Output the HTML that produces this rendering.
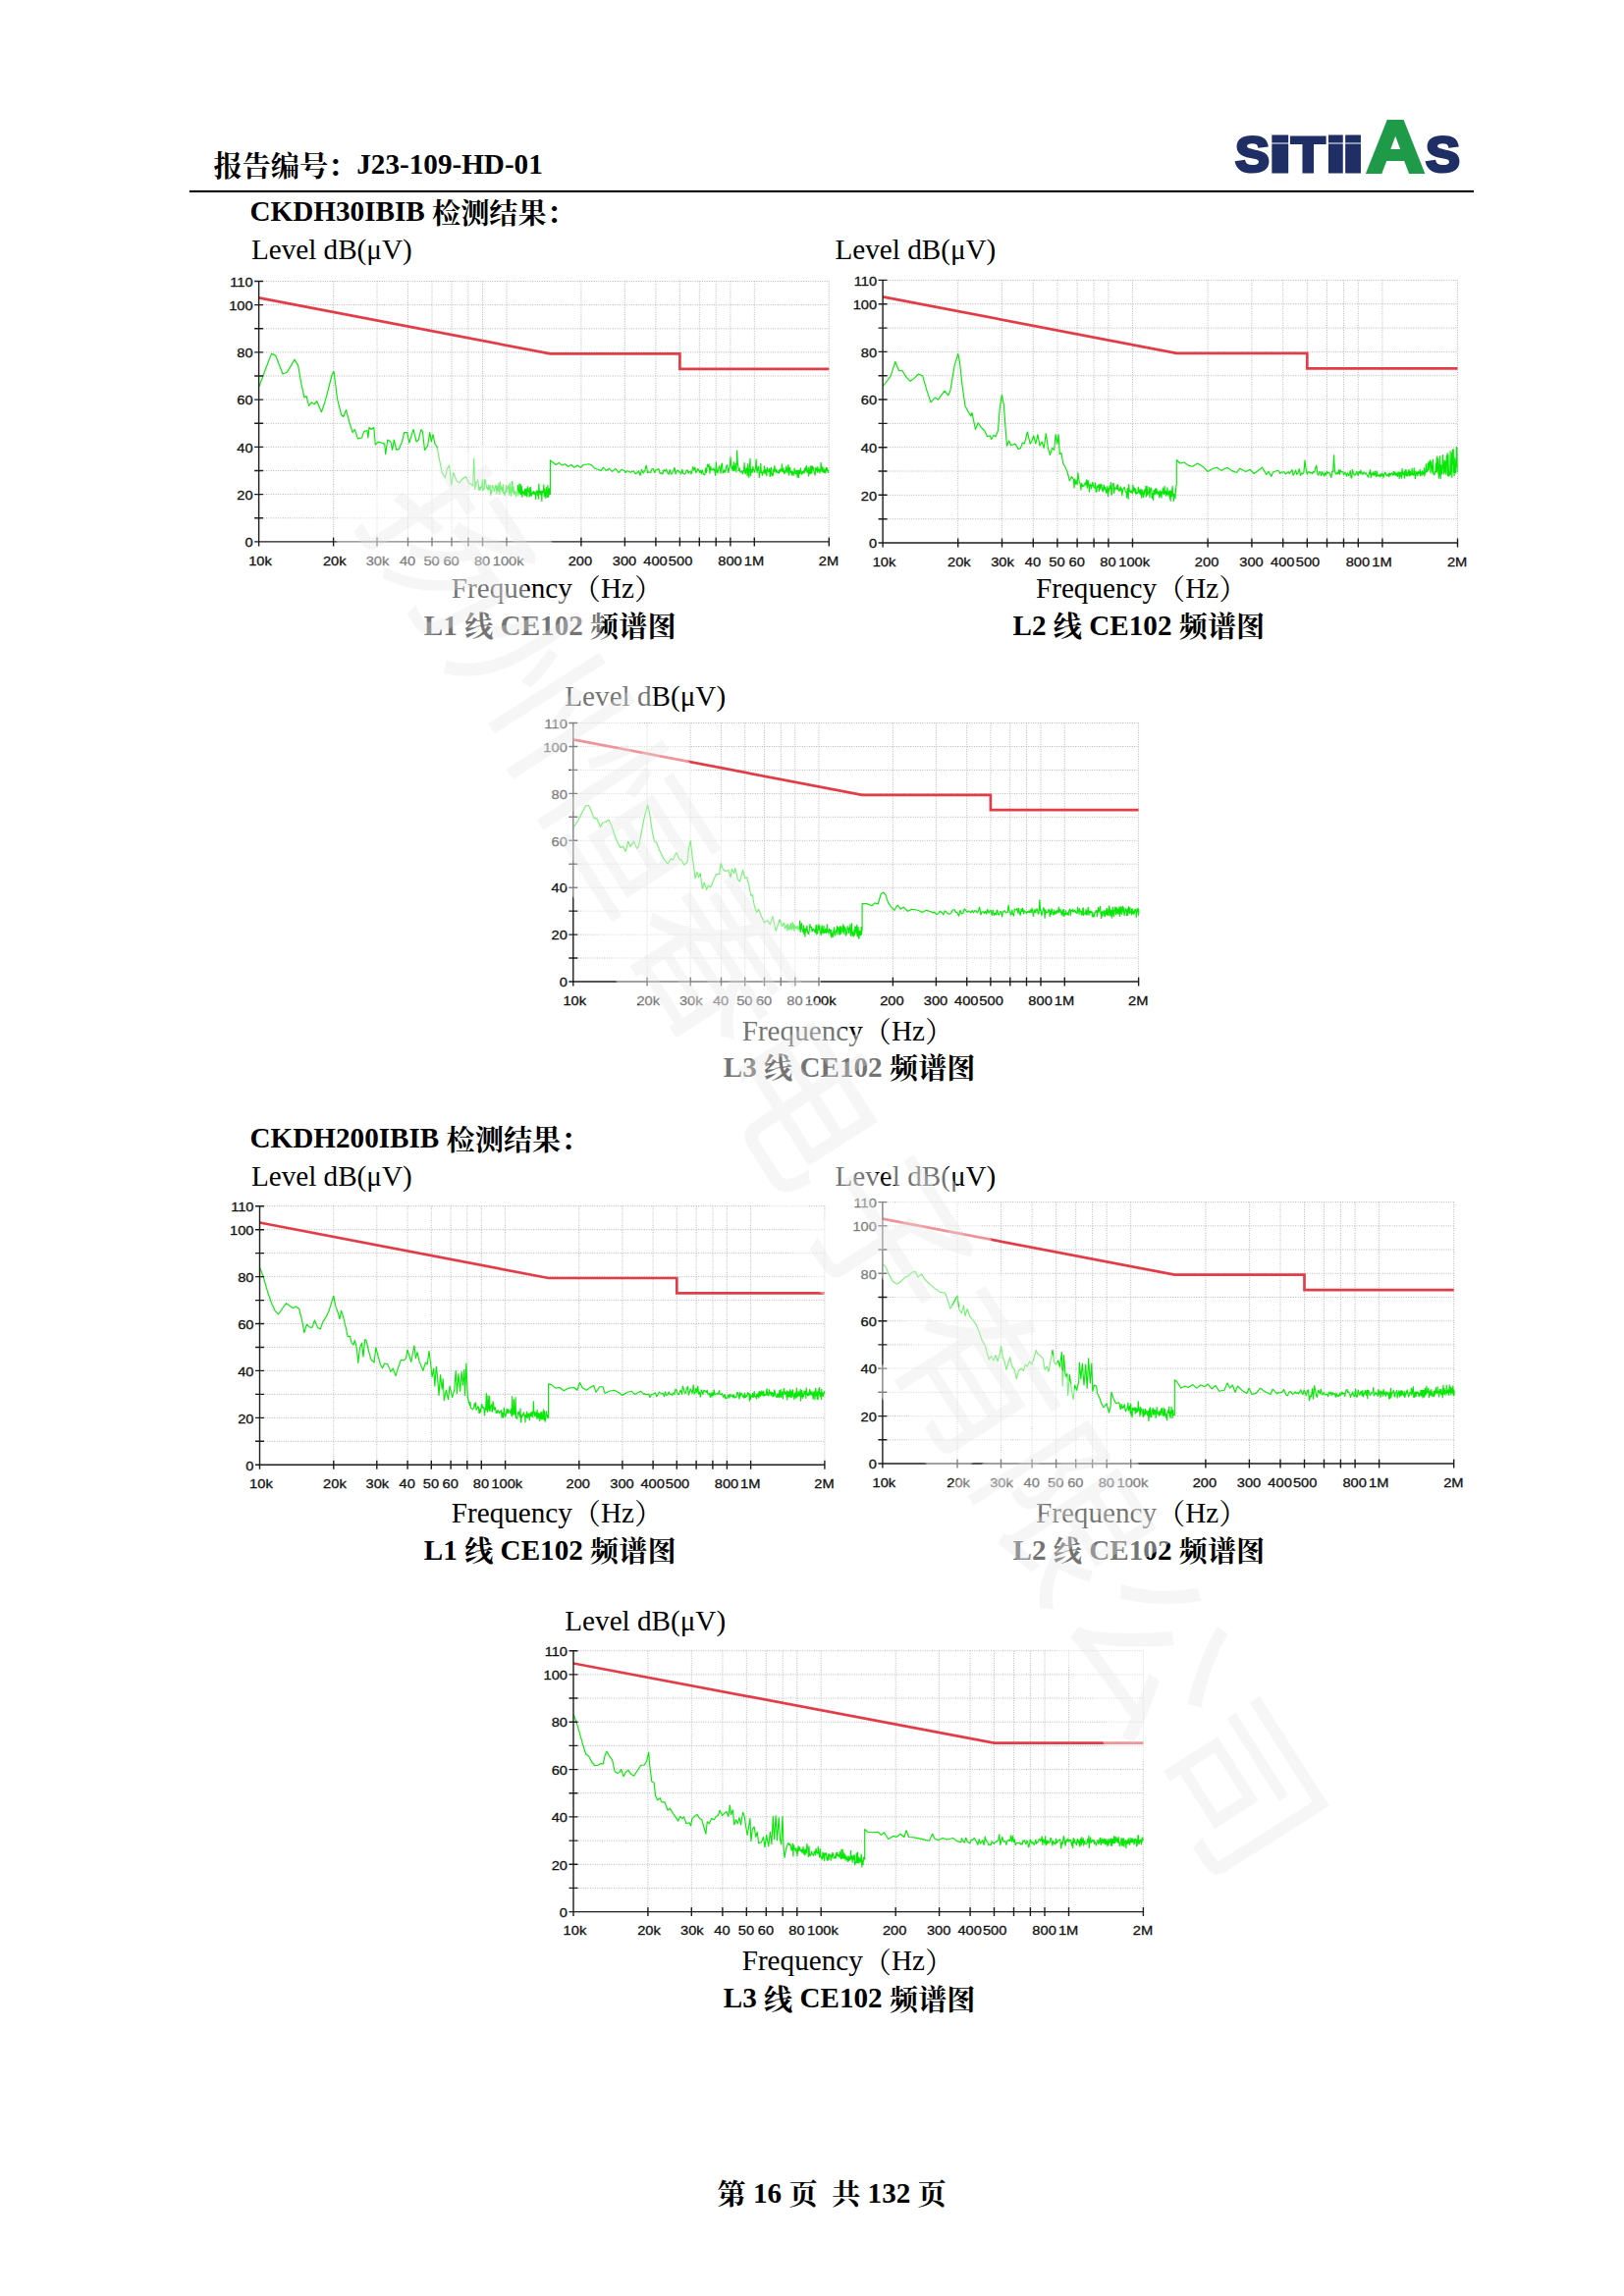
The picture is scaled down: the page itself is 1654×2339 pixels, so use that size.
<!DOCTYPE html>
<html lang="zh-CN">
<head>
<meta charset="utf-8">
<title>报告编号：J23-109-HD-01</title>
<style>
html,body{margin:0;padding:0;background:#fff;}
body{width:1654px;height:2339px;overflow:hidden;position:relative;}
svg{display:block;}
.s{font-family:"Liberation Serif","Noto Serif CJK SC",serif;font-size:29.17px;fill:#000;}
.b{font-weight:bold;}
.tk{font-family:"Liberation Sans",sans-serif;font-size:13.1px;fill:#111;stroke:#111;stroke-width:.3px;}
.grid{fill:none;stroke:#b8b8b8;stroke-width:1;stroke-dasharray:1 1.4;}
.ax{fill:none;stroke:#1c1c1c;stroke-width:1.4;}
.lim{fill:none;stroke:#e23c48;stroke-width:2.7;stroke-linejoin:miter;}
.tr{fill:none;stroke:#08e808;stroke-width:1.15;stroke-linejoin:round;}
.logo{position:absolute;left:0;top:105.4px;height:90px;line-height:90px;white-space:nowrap;font-family:"Liberation Sans",sans-serif;font-weight:bold;font-size:0;}
.logo span{display:inline-block;transform-origin:0 50%;}
.lg{font-size:49.5px;color:#1f2f66;-webkit-text-stroke:3px #1f2f66;}
.la{font-size:73.4px;color:#1f9a48;-webkit-text-stroke:4px #1f9a48;}
.wm,.wmh{font-family:"Noto Sans CJK SC","WenQuanYi Zen Hei",sans-serif;font-weight:400;font-size:165px;letter-spacing:1.2px;}
.wmh{fill:#fff;stroke:#fff;stroke-width:40;stroke-linejoin:round;opacity:.45;}
.wm{fill:#e4e4e4;opacity:.3;}
</style>
</head>
<body>
<svg width="1654" height="2339" viewBox="0 0 1654 2339">
<rect width="1654" height="2339" fill="#fff"/>

<text class="s b" x="217.5" y="177.2"><tspan dy="2.3">报告编号：</tspan><tspan dy="-2.3">J23-109-HD-01</tspan></text>
<rect x="192.9" y="193.9" width="1308.1" height="2.1" fill="#000"/>
<text class="s b" x="254.5" y="225.2"><tspan>CKDH30IBIB </tspan><tspan dy="2.3">检测结果：</tspan></text>
<text class="s b" x="254.5" y="1169.2"><tspan>CKDH200IBIB </tspan><tspan dy="2.3">检测结果：</tspan></text>
<text class="s" x="255.9" y="263.8">Level dB(μV)</text>
<g class="chart" id="c1">
<path class="grid" d="M268.6 527.8H844.3M268.6 503.6H844.3M268.6 479.5H844.3M268.6 455.4H844.3M268.6 431.3H844.3M268.6 407.1H844.3M268.6 383.0H844.3M268.6 358.9H844.3M268.6 334.8H844.3M268.6 310.6H844.3M268.6 286.5H844.3M339.6 286.5V546.9M384.0 286.5V546.9M415.5 286.5V546.9M440.0 286.5V546.9M460.0 286.5V546.9M476.9 286.5V546.9M491.5 286.5V546.9M516.0 286.5V546.9M591.9 286.5V546.9M636.4 286.5V546.9M667.9 286.5V546.9M692.4 286.5V546.9M712.3 286.5V546.9M729.2 286.5V546.9M743.9 286.5V546.9M768.3 286.5V546.9M844.3 286.5V546.9"/>
<path class="lim" d="M263.6 303.4L560.4 360.3L692.4 360.3L692.4 375.8L844.3 375.8"/>
<path class="tr" d="M264.0 393.5L270.2 376.8L276.5 360.4L280.7 362.1L283.9 370.5L288.0 381.0L292.2 379.3L296.4 372.6L300.0 366.3L303.7 372.6L306.9 391.4L310.0 405.0L312.1 403.6L314.6 413.4L317.4 409.9L320.1 411.9L322.6 408.6L327.4 419.7L331.0 409.2L334.1 397.7L338.3 381.0L340.0 378.4L341.4 389.3L343.5 406.1L347.7 422.8L349.8 424.5L352.5 417.6L356.1 431.2L359.2 440.6L361.3 437.5L364.5 446.9L368.6 445.9L370.7 439.6L373.9 438.5L374.9 445.9L376.0 435.4L378.1 437.5L380.8 435.4L382.3 453.2L385.4 450.0L388.5 451.1L391.7 452.1L392.7 462.6L394.8 448.0L398.0 450.0L399.6 458.4L401.3 448.0L403.8 458.4L406.3 457.4L409.5 450.0L411.6 440.6L414.7 440.6L416.8 451.1L421.0 437.5L424.1 450.0L426.2 448.0L428.9 437.5L430.4 439.6L432.5 458.4L435.6 454.2L437.7 440.6L439.4 450.0L440.9 442.7L443.0 452.1L445.1 455.3L447.2 466.8L450.3 481.5L453.4 486.7L455.5 477.3L457.6 474.1L459.7 494.0L461.8 481.5L465.0 489.8L468.1 491.9L471.2 487.7L474.4 485.6L477.5 491.9L480.7 494.0L481.7 495.1L482.7 466.8L483.8 498.2L484.2 490.6L484.8 494.8L485.4 491.5L486.0 491.3L486.6 488.7L487.2 492.5L487.8 499.1L488.4 496.2L489.0 499.3L489.6 495.9L490.2 496.9L490.8 496.2L491.4 488.1L491.9 499.8L492.5 498.4L493.1 498.5L493.6 488.8L494.2 488.7L494.8 492.6L495.3 494.5L495.9 498.0L496.4 496.5L497.0 499.1L497.5 494.1L498.1 498.3L498.6 498.8L499.1 494.3L499.7 504.5L500.2 499.7L500.7 502.4L501.3 494.9L501.8 494.5L502.3 496.2L502.8 497.3L503.3 500.4L503.9 498.9L504.4 496.1L504.9 494.1L505.4 496.0L505.9 503.1L506.4 495.0L506.9 499.3L507.4 500.1L507.9 492.5L508.4 498.7L508.9 503.8L509.4 490.8L509.9 497.5L510.4 498.4L510.8 495.7L511.3 500.9L511.8 498.8L512.3 493.5L512.7 502.4L513.2 501.8L513.7 502.9L514.2 504.8L514.6 500.7L515.1 499.8L515.6 494.5L516.0 501.8L516.5 497.1L516.9 497.8L517.4 494.7L517.8 495.9L518.3 497.6L518.7 504.5L519.2 492.0L519.6 494.2L520.1 500.6L520.5 505.1L521.0 501.9L521.4 492.6L521.8 490.8L522.3 501.2L522.7 497.1L523.1 495.7L523.6 503.6L524.0 504.0L524.4 500.5L524.9 500.9L525.3 501.6L525.7 506.0L526.1 502.4L526.5 502.0L527.0 502.2L527.4 494.3L527.8 504.9L528.2 503.7L528.6 502.2L529.0 492.9L529.4 497.9L529.8 503.4L530.2 493.6L530.6 499.7L531.0 504.1L531.4 495.6L531.8 506.4L532.2 502.5L532.6 499.9L533.0 501.7L533.4 502.9L533.8 501.0L534.2 504.8L534.6 498.2L535.0 499.1L535.4 504.5L535.8 500.8L536.1 497.5L536.5 504.2L536.9 506.1L537.3 499.1L537.7 495.7L538.0 500.3L538.4 500.3L538.8 499.8L539.2 506.0L539.5 497.2L539.9 505.5L540.3 496.3L540.6 498.1L541.0 503.3L541.4 505.1L541.7 504.2L542.1 502.3L542.5 501.6L542.8 501.7L543.2 503.2L543.5 500.5L543.9 502.2L544.3 503.3L544.6 501.2L545.0 504.0L545.3 503.3L545.7 508.5L546.0 502.5L546.4 499.8L546.7 500.0L547.1 501.3L547.4 504.7L547.8 500.3L548.1 502.9L548.4 508.1L548.8 493.0L549.1 497.6L549.5 502.5L549.8 503.1L550.1 502.6L550.5 500.3L550.8 504.1L551.1 502.9L551.5 500.1L551.8 510.4L552.1 503.2L552.5 500.1L552.8 501.7L553.1 501.3L553.5 501.9L553.8 493.8L554.1 500.5L554.4 505.7L554.8 498.2L555.1 502.1L555.4 505.6L555.7 505.3L556.0 507.6L556.4 496.6L556.7 501.3L557.0 501.3L557.3 504.7L557.6 506.3L557.9 494.4L558.3 506.4L558.6 497.7L558.9 505.1L559.2 497.7L559.5 503.4L560.4 503.4L560.4 468.9L563.0 471.0L566.2 473.5L569.3 471.4L572.5 474.1L575.6 472.7L578.7 475.2L581.9 473.5L585.0 476.2L588.2 474.1L591.3 476.2L594.4 473.5L599.7 472.7L602.8 474.1L605.9 477.3L609.1 478.3L612.2 479.4L614.3 476.2L617.5 479.4L620.6 477.3L623.7 480.4L626.9 477.3L630.0 481.5L633.2 478.3L636.3 479.8L636.7 481.5L638.5 479.8L640.3 480.3L642.1 481.2L643.8 480.3L645.5 480.0L647.1 482.6L648.8 481.9L650.4 479.8L652.0 484.3L653.6 478.4L655.1 482.0L656.6 479.9L658.2 474.1L659.6 481.7L661.1 480.8L662.6 481.5L664.0 477.6L665.4 477.6L666.8 481.5L668.2 478.5L669.5 478.4L670.9 477.6L672.2 482.6L673.5 481.7L674.8 483.0L676.1 478.5L677.3 480.2L678.6 478.1L679.8 481.7L681.0 483.2L682.3 478.5L683.5 483.2L684.6 482.1L685.8 479.8L687.0 476.4L688.1 482.9L689.2 480.0L690.4 479.0L691.5 480.9L692.6 480.9L693.7 483.0L694.7 478.1L695.8 482.3L696.9 483.0L697.9 482.9L698.9 479.7L700.0 478.6L701.0 482.1L702.0 480.3L703.0 480.3L704.0 482.8L705.0 479.5L705.9 475.4L706.9 479.2L707.9 476.0L708.8 481.6L709.7 480.2L710.7 477.5L711.6 478.9L712.5 481.4L713.4 479.2L714.3 482.9L715.2 478.7L716.1 482.0L717.0 483.4L717.9 483.8L718.7 476.8L719.6 481.5L720.4 473.1L721.3 475.5L722.1 472.8L722.9 482.1L723.8 475.0L724.6 478.8L725.4 478.2L726.2 478.7L727.0 476.9L727.8 479.5L728.6 484.3L729.4 471.0L730.2 480.4L730.9 481.9L731.7 478.1L732.5 474.8L733.2 477.0L734.0 482.1L734.7 473.5L735.5 472.0L736.2 481.9L736.9 481.2L737.7 478.7L738.4 481.2L739.1 479.2L739.8 474.9L740.5 473.7L741.2 476.6L741.9 481.6L742.6 476.8L743.3 475.7L744.0 465.8L744.7 473.7L745.4 478.2L746.0 474.8L746.7 479.8L747.4 470.9L748.0 479.6L748.7 476.5L749.3 472.2L750.0 480.9L750.6 459.1L751.3 471.3L751.9 475.7L752.6 479.5L753.2 477.0L753.8 481.1L754.4 481.0L755.1 480.7L755.7 479.6L756.3 482.9L756.9 480.6L757.5 480.0L758.1 471.6L758.7 481.4L759.3 482.8L759.9 477.5L760.5 476.9L761.1 484.9L761.7 472.6L762.2 480.0L762.8 486.4L763.4 475.3L764.0 467.2L764.5 484.7L765.1 478.0L765.7 480.3L766.2 481.4L766.8 475.3L767.3 478.1L767.9 479.3L768.4 481.1L769.0 478.2L769.5 477.7L770.1 467.8L770.6 477.1L771.1 481.4L771.7 478.7L772.2 475.4L772.7 475.6L773.3 486.4L773.8 482.4L774.3 481.0L774.8 472.2L775.3 481.3L775.8 481.0L776.4 484.3L776.9 481.1L777.4 479.8L777.9 481.3L778.4 474.9L778.9 482.7L779.4 480.8L779.9 478.2L780.4 483.4L780.8 484.7L781.3 476.3L781.8 478.2L782.3 480.7L782.8 480.5L783.3 478.9L783.7 477.4L784.2 485.5L784.7 482.7L785.2 476.9L785.6 476.5L786.1 484.5L786.6 482.6L787.0 484.8L787.5 482.1L787.9 477.7L788.4 480.7L788.9 474.3L789.3 478.0L789.8 479.8L790.2 481.4L790.7 478.1L791.1 479.7L791.5 481.2L792.0 481.0L792.4 481.7L792.9 480.5L793.3 479.1L793.7 482.1L794.2 480.1L794.6 477.8L795.0 478.3L795.5 480.0L795.9 479.7L796.3 472.7L796.7 480.0L797.2 480.5L797.6 479.6L798.0 476.6L798.4 481.1L798.8 482.8L799.3 481.1L799.7 479.5L800.1 481.2L800.5 477.4L800.9 474.9L801.3 480.1L801.7 477.5L802.1 482.0L802.5 477.1L802.9 473.6L803.3 477.2L803.7 484.2L804.1 479.0L804.5 476.3L804.9 477.9L805.3 481.4L805.7 481.3L806.1 480.5L806.5 484.0L806.8 481.9L807.2 479.9L807.6 481.6L808.0 484.4L808.4 482.6L808.7 482.7L809.1 477.1L809.5 479.6L809.9 482.0L810.3 479.2L810.6 482.9L811.0 481.6L811.4 482.4L811.7 479.4L812.1 486.5L812.5 483.3L812.8 479.4L813.2 480.2L813.6 486.5L813.9 479.1L814.3 482.4L814.7 482.6L815.0 480.0L815.4 476.8L815.7 480.5L816.1 481.0L816.4 483.1L816.8 482.1L817.1 480.1L817.5 482.3L817.8 481.5L818.2 480.5L818.5 480.1L818.9 479.3L819.2 481.9L819.6 477.1L819.9 478.3L820.3 480.0L820.6 476.0L820.9 478.8L821.3 474.5L821.6 478.1L821.9 481.5L822.3 481.5L822.6 479.8L822.9 479.4L823.3 476.1L823.6 485.0L823.9 481.4L824.3 483.0L824.6 477.6L824.9 479.5L825.3 475.0L825.6 482.1L825.9 482.6L826.2 474.8L826.5 479.8L826.9 481.7L827.2 475.1L827.5 475.0L827.8 477.1L828.1 478.3L828.5 476.1L828.8 480.1L829.1 480.7L829.4 481.7L829.7 481.9L830.0 484.1L830.3 483.2L830.7 476.4L831.0 478.6L831.3 477.1L831.6 477.0L831.9 479.8L832.2 480.0L832.5 481.3L832.8 475.6L833.1 476.6L833.4 479.9L833.7 479.4L834.0 479.1L834.3 479.8L834.6 477.9L834.9 481.9L835.2 481.0L835.5 479.7L835.8 478.1L836.1 471.4L836.4 473.3L836.7 477.3L837.0 480.1L837.3 475.8L837.6 480.5L837.9 480.4L838.2 476.2L838.4 479.3L838.7 479.1L839.0 481.3L839.3 481.7L839.6 479.9L839.9 477.6L840.2 479.6L840.4 479.8L840.7 482.0L841.0 480.8L841.3 478.0L841.6 476.2L841.9 478.9L842.1 477.9L842.4 476.9L842.7 479.7L843.0 478.6L843.3 480.3L843.5 481.5L843.8 478.8"/>
<path class="ax" d="M263.6 286.5V556.4M259.1 551.9H844.3M259.1 527.8h9M259.1 503.6h9M259.1 479.5h9M259.1 455.4h9M259.1 431.3h9M259.1 407.1h9M259.1 383.0h9M259.1 358.9h9M259.1 334.8h9M259.1 310.6h9M259.1 286.5h9M339.6 547.4v9M384.0 547.4v9M415.5 547.4v9M440.0 547.4v9M460.0 547.4v9M476.9 547.4v9M491.5 547.4v9M516.0 547.4v9M591.9 547.4v9M636.4 547.4v9M667.9 547.4v9M692.4 547.4v9M712.3 547.4v9M729.2 547.4v9M743.9 547.4v9M768.3 547.4v9M844.3 547.4v9"/>
<text class="tk" text-anchor="end" transform="translate(257.6 557.1) scale(1.12 1)">0</text>
<text class="tk" text-anchor="end" transform="translate(257.6 508.8) scale(1.12 1)">20</text>
<text class="tk" text-anchor="end" transform="translate(257.6 460.6) scale(1.12 1)">40</text>
<text class="tk" text-anchor="end" transform="translate(257.6 412.3) scale(1.12 1)">60</text>
<text class="tk" text-anchor="end" transform="translate(257.6 364.1) scale(1.12 1)">80</text>
<text class="tk" text-anchor="end" transform="translate(257.6 315.8) scale(1.12 1)">100</text>
<text class="tk" text-anchor="end" transform="translate(257.6 291.7) scale(1.12 1)">110</text>
<text class="tk" text-anchor="middle" transform="translate(265.0 575.7) scale(1.12 1)">10k</text>
<text class="tk" text-anchor="middle" transform="translate(340.7 575.7) scale(1.12 1)">20k</text>
<text class="tk" text-anchor="middle" transform="translate(384.5 575.7) scale(1.12 1)">30k</text>
<text class="tk" text-anchor="middle" transform="translate(415.1 575.7) scale(1.12 1)">40</text>
<text class="tk" text-anchor="middle" transform="translate(439.6 575.7) scale(1.12 1)">50</text>
<text class="tk" text-anchor="middle" transform="translate(459.6 575.7) scale(1.12 1)">60</text>
<text class="tk" text-anchor="middle" transform="translate(491.1 575.7) scale(1.12 1)">80</text>
<text class="tk" text-anchor="middle" transform="translate(517.7 575.7) scale(1.12 1)">100k</text>
<text class="tk" text-anchor="middle" transform="translate(590.9 575.7) scale(1.12 1)">200</text>
<text class="tk" text-anchor="middle" transform="translate(636.0 575.7) scale(1.12 1)">300</text>
<text class="tk" text-anchor="middle" transform="translate(667.5 575.7) scale(1.12 1)">400</text>
<text class="tk" text-anchor="middle" transform="translate(693.1 575.7) scale(1.12 1)">500</text>
<text class="tk" text-anchor="middle" transform="translate(743.5 575.7) scale(1.12 1)">800</text>
<text class="tk" text-anchor="middle" transform="translate(767.9 575.7) scale(1.12 1)">1M</text>
<text class="tk" text-anchor="middle" transform="translate(843.9 575.7) scale(1.12 1)">2M</text>
</g>
<text class="s" x="459.8" y="609.1"><tspan>Frequency</tspan><tspan dy="2.3">（</tspan><tspan dy="-2.3">Hz</tspan><tspan dy="2.3">）</tspan></text>
<text class="s b" x="431.8" y="646.6"><tspan>L1 </tspan><tspan dy="2.3">线</tspan><tspan dy="-2.3"> CE102 </tspan><tspan dy="2.3">频谱图</tspan></text>
<text class="s" x="850.5" y="263.8">Level dB(μV)</text>
<g class="chart" id="c2">
<path class="grid" d="M904.1 528.7H1484.5M904.1 504.3H1484.5M904.1 480.0H1484.5M904.1 455.7H1484.5M904.1 431.4H1484.5M904.1 407.0H1484.5M904.1 382.7H1484.5M904.1 358.4H1484.5M904.1 334.1H1484.5M904.1 309.7H1484.5M904.1 285.4H1484.5M975.7 285.4V548.0M1020.5 285.4V548.0M1052.3 285.4V548.0M1076.9 285.4V548.0M1097.1 285.4V548.0M1114.1 285.4V548.0M1128.9 285.4V548.0M1153.5 285.4V548.0M1230.1 285.4V548.0M1274.9 285.4V548.0M1306.7 285.4V548.0M1331.3 285.4V548.0M1351.5 285.4V548.0M1368.5 285.4V548.0M1383.3 285.4V548.0M1407.9 285.4V548.0M1484.5 285.4V548.0"/>
<path class="lim" d="M899.1 302.4L1198.3 359.8L1331.3 359.8L1331.3 375.4L1484.5 375.4"/>
<path class="tr" d="M899.3 393.5L907.2 383.1L911.8 368.4L915.6 377.8L918.7 377.2L922.9 384.1L927.1 388.3L931.3 385.1L935.5 381.0L939.7 383.1L943.9 397.7L948.0 409.9L952.2 405.0L955.4 407.1L962.1 398.1L965.8 402.9L967.9 397.7L972.1 372.6L975.7 360.4L977.4 368.4L980.1 393.5L983.0 413.4L986.8 420.7L988.9 423.9L989.9 420.3L993.5 437.5L996.2 430.8L999.3 435.4L1002.5 438.5L1005.6 444.8L1008.1 443.8L1009.8 447.5L1011.9 443.3L1014.0 444.8L1016.5 438.5L1018.2 416.6L1020.3 402.3L1022.4 412.4L1024.0 435.4L1025.5 454.2L1027.6 449.0L1029.7 453.8L1033.9 452.1L1037.0 457.4L1039.5 456.7L1041.2 451.1L1043.3 452.1L1046.4 440.0L1049.2 452.1L1050.6 450.0L1052.7 443.8L1054.8 452.1L1056.9 442.7L1059.0 454.2L1061.1 450.0L1063.2 456.3L1065.3 441.7L1067.4 456.3L1069.5 463.7L1071.6 456.3L1073.7 458.4L1075.1 442.7L1076.8 452.1L1078.1 442.7L1079.3 462.6L1081.0 461.6L1082.7 472.0L1085.2 476.2L1087.3 481.5L1089.4 489.8L1091.5 485.6L1093.5 488.8L1094.0 496.9L1094.8 487.9L1095.5 493.1L1096.3 489.9L1097.1 493.6L1097.9 481.6L1098.6 487.5L1099.4 491.3L1100.2 492.7L1100.9 499.1L1101.6 492.2L1102.4 495.8L1103.1 494.2L1103.9 495.1L1104.6 493.7L1105.3 491.6L1106.0 494.2L1106.7 488.7L1107.4 497.0L1108.1 489.3L1108.8 494.1L1109.5 501.0L1110.2 492.8L1110.9 493.8L1111.6 498.0L1112.3 494.1L1112.9 491.2L1113.6 495.2L1114.3 496.5L1114.9 497.1L1115.6 491.9L1116.2 501.1L1116.9 500.9L1117.5 495.1L1118.2 496.1L1118.8 493.8L1119.4 500.5L1120.1 493.0L1120.7 498.1L1121.3 494.1L1121.9 493.4L1122.5 498.6L1123.2 501.0L1123.8 496.3L1124.4 494.0L1125.0 499.5L1125.6 496.5L1126.2 497.9L1126.8 502.4L1127.3 501.1L1127.9 495.3L1128.5 505.5L1129.1 497.4L1129.7 500.3L1130.3 495.3L1130.8 497.5L1131.4 491.5L1132.0 504.3L1132.5 502.8L1133.1 493.7L1133.6 492.7L1134.2 492.3L1134.7 502.4L1135.3 496.6L1135.8 498.1L1136.4 497.3L1136.9 498.0L1137.5 494.7L1138.0 498.7L1138.5 493.6L1139.1 498.5L1139.6 499.9L1140.1 500.5L1140.6 498.1L1141.2 495.8L1141.7 499.6L1142.2 497.4L1142.7 504.6L1143.2 501.9L1143.7 498.9L1144.2 497.7L1144.7 497.0L1145.2 496.2L1145.7 498.3L1146.2 500.6L1146.7 501.4L1147.2 501.7L1147.7 507.0L1148.2 497.4L1148.7 499.9L1149.2 508.2L1149.6 493.6L1150.1 498.3L1150.6 500.7L1151.1 500.7L1151.5 501.6L1152.0 499.5L1152.5 501.6L1153.0 500.5L1153.4 503.0L1153.9 494.0L1154.3 497.4L1154.8 500.5L1155.3 497.0L1155.7 497.0L1156.2 502.7L1156.6 498.4L1157.1 502.8L1157.5 503.2L1158.0 501.7L1158.4 502.4L1158.9 500.4L1159.3 496.0L1159.7 500.7L1160.2 502.4L1160.6 499.1L1161.0 500.5L1161.5 503.5L1161.9 498.0L1162.3 503.1L1162.8 507.3L1163.2 499.1L1163.6 501.6L1164.0 500.6L1164.5 506.4L1164.9 502.2L1165.3 504.2L1165.7 498.9L1166.1 501.2L1166.5 501.2L1167.0 495.2L1167.4 506.2L1167.8 504.4L1168.2 495.4L1168.6 503.9L1169.0 501.0L1169.4 503.0L1169.8 502.7L1170.2 496.4L1170.6 500.8L1171.0 506.6L1171.4 499.6L1171.8 498.1L1172.2 497.0L1172.6 497.5L1172.9 502.8L1173.3 507.5L1173.7 503.2L1174.1 502.6L1174.5 509.4L1174.9 500.0L1175.3 499.5L1175.6 503.7L1176.0 503.8L1176.4 498.5L1176.8 498.0L1177.1 503.0L1177.5 502.8L1177.9 497.5L1178.3 501.3L1178.6 500.2L1179.0 503.6L1179.4 501.6L1179.7 501.7L1180.1 500.8L1180.5 505.6L1180.8 506.8L1181.2 500.8L1181.6 504.9L1181.9 499.5L1182.3 502.3L1182.6 504.6L1183.0 507.2L1183.3 500.8L1183.7 501.8L1184.0 502.8L1184.4 497.0L1184.7 502.2L1185.1 499.8L1185.4 503.4L1185.8 498.3L1186.1 495.4L1186.5 502.3L1186.8 503.0L1187.2 500.3L1187.5 505.2L1187.9 501.3L1188.2 500.1L1188.5 503.8L1188.9 496.9L1189.2 499.9L1189.5 502.1L1189.9 505.1L1190.2 501.7L1190.5 503.3L1190.9 500.0L1191.2 503.3L1191.5 507.9L1191.9 499.9L1192.2 510.3L1192.5 500.1L1192.8 502.3L1193.2 502.9L1193.5 505.8L1193.8 498.1L1194.1 495.2L1194.5 504.4L1194.8 505.0L1195.1 504.4L1195.4 510.5L1195.7 503.0L1196.0 503.2L1196.4 505.5L1196.7 503.6L1197.0 508.0L1197.3 498.2L1197.6 501.1L1197.9 494.2L1198.3 494.2L1198.3 468.5L1201.9 472.0L1206.1 471.0L1210.2 474.1L1214.4 475.2L1219.7 472.0L1224.9 475.2L1230.1 480.4L1235.4 477.3L1239.6 476.2L1243.7 479.4L1250.0 476.2L1254.2 479.4L1259.4 481.5L1262.6 477.3L1268.9 480.4L1273.1 478.3L1277.2 482.5L1285.6 476.2L1289.8 483.5L1290.2 482.7L1291.8 480.3L1293.4 482.9L1294.9 485.4L1296.5 481.0L1298.0 480.5L1299.4 480.0L1300.9 479.3L1302.4 479.7L1303.8 482.4L1305.2 481.1L1306.6 481.2L1308.0 480.7L1309.3 483.0L1310.7 482.1L1312.0 480.7L1313.3 482.4L1314.6 480.7L1315.9 478.6L1317.1 484.2L1318.4 482.0L1319.6 479.0L1320.8 483.4L1322.0 481.8L1323.2 477.6L1324.4 484.5L1325.6 481.8L1326.7 483.0L1327.9 481.5L1329.0 468.9L1330.1 477.7L1331.3 483.2L1332.4 481.2L1333.4 480.5L1334.5 481.9L1335.6 481.4L1336.6 482.7L1337.7 480.4L1338.7 481.2L1339.8 476.7L1340.8 474.1L1341.8 482.8L1342.8 484.2L1343.8 480.6L1344.8 481.1L1345.7 484.7L1346.7 480.7L1347.7 483.0L1348.6 485.0L1349.6 481.6L1350.5 484.1L1351.4 480.0L1352.3 482.0L1353.2 481.4L1354.1 481.8L1355.0 483.9L1355.9 486.5L1356.8 480.2L1357.7 480.5L1358.5 463.7L1359.4 479.5L1360.3 482.7L1361.1 482.9L1361.9 481.2L1362.8 482.8L1363.6 478.6L1364.4 483.3L1365.2 478.7L1366.1 480.4L1366.9 480.7L1367.7 481.0L1368.5 483.6L1369.2 482.0L1370.0 481.1L1370.8 483.0L1371.6 485.1L1372.3 482.0L1373.1 482.8L1373.8 484.5L1374.6 482.6L1375.3 479.6L1376.1 486.9L1376.8 486.5L1377.5 478.4L1378.3 482.2L1379.0 483.1L1379.7 484.2L1380.4 483.7L1381.1 481.9L1381.8 480.4L1382.5 482.7L1383.2 484.5L1383.9 480.5L1384.6 480.6L1385.3 482.6L1385.9 479.0L1386.6 482.2L1387.3 481.9L1387.9 483.6L1388.6 481.4L1389.3 481.1L1389.9 482.1L1390.6 482.8L1391.2 481.7L1391.8 483.0L1392.5 484.4L1393.1 485.2L1393.7 486.2L1394.4 481.6L1395.0 482.3L1395.6 478.7L1396.2 486.6L1396.8 481.8L1397.5 483.1L1398.1 484.2L1398.7 480.8L1399.3 484.1L1399.9 483.3L1400.4 480.0L1401.0 483.9L1401.6 485.6L1402.2 480.0L1402.8 484.9L1403.4 483.9L1403.9 484.4L1404.5 484.3L1405.1 485.9L1405.6 483.1L1406.2 485.1L1406.8 482.7L1407.3 484.8L1407.9 481.9L1408.4 483.2L1409.0 486.6L1409.5 484.2L1410.1 483.0L1410.6 481.1L1411.1 481.8L1411.7 483.6L1412.2 485.0L1412.7 484.0L1413.3 484.2L1413.8 483.1L1414.3 485.7L1414.8 482.3L1415.4 482.0L1415.9 484.8L1416.4 483.1L1416.9 482.4L1417.4 481.8L1417.9 482.4L1418.4 484.2L1418.9 483.6L1419.4 480.4L1419.9 483.7L1420.4 483.2L1420.9 480.8L1421.4 484.4L1421.9 482.2L1422.4 482.1L1422.8 484.4L1423.3 485.4L1423.8 481.2L1424.3 483.6L1424.8 480.8L1425.2 487.5L1425.7 481.5L1426.2 485.1L1426.6 481.2L1427.1 484.2L1427.6 487.2L1428.0 477.3L1428.5 481.5L1428.9 483.5L1429.4 482.2L1429.9 480.9L1430.3 487.1L1430.8 482.5L1431.2 478.7L1431.7 484.2L1432.1 478.5L1432.5 484.8L1433.0 481.0L1433.4 482.6L1433.9 485.1L1434.3 482.5L1434.7 479.1L1435.2 478.5L1435.6 484.9L1436.0 483.9L1436.4 480.4L1436.9 484.1L1437.3 483.3L1437.7 483.6L1438.1 477.1L1438.6 481.5L1439.0 484.2L1439.4 483.8L1439.8 484.1L1440.2 476.7L1440.6 482.5L1441.0 483.2L1441.5 487.6L1441.9 479.9L1442.3 481.3L1442.7 482.2L1443.1 484.1L1443.5 481.0L1443.9 484.7L1444.3 480.2L1444.7 482.7L1445.1 480.8L1445.5 482.4L1445.9 480.4L1446.2 478.3L1446.6 484.6L1447.0 482.7L1447.4 480.7L1447.8 482.5L1448.2 484.3L1448.6 479.7L1448.9 481.7L1449.3 483.2L1449.7 483.2L1450.1 481.1L1450.5 476.9L1450.8 484.9L1451.2 482.7L1451.6 481.9L1451.9 481.2L1452.3 472.7L1452.7 480.9L1453.1 479.4L1453.4 480.1L1453.8 480.4L1454.2 472.3L1454.5 478.9L1454.9 470.5L1455.2 478.4L1455.6 472.6L1456.0 474.0L1456.3 468.9L1456.7 474.1L1457.0 482.0L1457.4 476.3L1457.7 470.1L1458.1 473.8L1458.4 476.9L1458.8 479.8L1459.1 481.9L1459.5 468.1L1459.8 481.6L1460.2 483.3L1460.5 483.4L1460.9 483.8L1461.2 482.9L1461.5 480.6L1461.9 481.3L1462.2 475.2L1462.6 471.6L1462.9 480.9L1463.2 466.7L1463.6 480.5L1463.9 464.7L1464.2 478.8L1464.6 467.5L1464.9 482.7L1465.2 480.9L1465.5 486.9L1465.9 474.9L1466.2 468.0L1466.5 464.9L1466.8 483.9L1467.2 487.7L1467.5 474.9L1467.8 473.6L1468.1 482.7L1468.5 480.5L1468.8 482.8L1469.1 475.2L1469.4 464.1L1469.7 463.7L1470.0 472.0L1470.4 479.7L1470.7 483.0L1471.0 479.9L1471.3 469.1L1471.6 479.9L1471.9 475.1L1472.2 481.1L1472.5 469.9L1472.8 483.3L1473.1 473.1L1473.4 464.3L1473.8 471.0L1474.1 461.6L1474.4 484.6L1474.7 472.8L1475.0 463.4L1475.3 475.9L1475.6 483.5L1475.9 485.4L1476.2 483.7L1476.5 483.4L1476.8 479.5L1477.1 459.5L1477.3 483.6L1477.6 478.6L1477.9 469.8L1478.2 478.4L1478.5 461.4L1478.8 486.4L1479.1 472.5L1479.4 458.0L1479.7 472.7L1480.0 459.6L1480.3 457.8L1480.5 480.9L1480.8 478.1L1481.1 484.7L1481.4 479.5L1481.7 466.5L1482.0 470.4L1482.2 480.2L1482.5 482.0L1482.8 471.1L1483.1 475.9L1483.4 455.3L1483.6 459.0L1483.9 455.8L1484.2 481.0L1484.5 481.2"/>
<path class="ax" d="M899.1 285.4V557.5M894.6 553.0H1484.5M894.6 528.7h9M894.6 504.3h9M894.6 480.0h9M894.6 455.7h9M894.6 431.4h9M894.6 407.0h9M894.6 382.7h9M894.6 358.4h9M894.6 334.1h9M894.6 309.7h9M894.6 285.4h9M975.7 548.5v9M1020.5 548.5v9M1052.3 548.5v9M1076.9 548.5v9M1097.1 548.5v9M1114.1 548.5v9M1128.9 548.5v9M1153.5 548.5v9M1230.1 548.5v9M1274.9 548.5v9M1306.7 548.5v9M1331.3 548.5v9M1351.5 548.5v9M1368.5 548.5v9M1383.3 548.5v9M1407.9 548.5v9M1484.5 548.5v9"/>
<text class="tk" text-anchor="end" transform="translate(893.1 558.2) scale(1.12 1)">0</text>
<text class="tk" text-anchor="end" transform="translate(893.1 509.5) scale(1.12 1)">20</text>
<text class="tk" text-anchor="end" transform="translate(893.1 460.9) scale(1.12 1)">40</text>
<text class="tk" text-anchor="end" transform="translate(893.1 412.2) scale(1.12 1)">60</text>
<text class="tk" text-anchor="end" transform="translate(893.1 363.6) scale(1.12 1)">80</text>
<text class="tk" text-anchor="end" transform="translate(893.1 314.9) scale(1.12 1)">100</text>
<text class="tk" text-anchor="end" transform="translate(893.1 290.6) scale(1.12 1)">110</text>
<text class="tk" text-anchor="middle" transform="translate(900.5 576.8) scale(1.12 1)">10k</text>
<text class="tk" text-anchor="middle" transform="translate(976.8 576.8) scale(1.12 1)">20k</text>
<text class="tk" text-anchor="middle" transform="translate(1021.0 576.8) scale(1.12 1)">30k</text>
<text class="tk" text-anchor="middle" transform="translate(1051.9 576.8) scale(1.12 1)">40</text>
<text class="tk" text-anchor="middle" transform="translate(1076.5 576.8) scale(1.12 1)">50</text>
<text class="tk" text-anchor="middle" transform="translate(1096.7 576.8) scale(1.12 1)">60</text>
<text class="tk" text-anchor="middle" transform="translate(1128.5 576.8) scale(1.12 1)">80</text>
<text class="tk" text-anchor="middle" transform="translate(1155.2 576.8) scale(1.12 1)">100k</text>
<text class="tk" text-anchor="middle" transform="translate(1229.1 576.8) scale(1.12 1)">200</text>
<text class="tk" text-anchor="middle" transform="translate(1274.5 576.8) scale(1.12 1)">300</text>
<text class="tk" text-anchor="middle" transform="translate(1306.3 576.8) scale(1.12 1)">400</text>
<text class="tk" text-anchor="middle" transform="translate(1332.0 576.8) scale(1.12 1)">500</text>
<text class="tk" text-anchor="middle" transform="translate(1382.9 576.8) scale(1.12 1)">800</text>
<text class="tk" text-anchor="middle" transform="translate(1407.5 576.8) scale(1.12 1)">1M</text>
<text class="tk" text-anchor="middle" transform="translate(1484.1 576.8) scale(1.12 1)">2M</text>
</g>
<text class="s" x="1055.0" y="609.1"><tspan>Frequency</tspan><tspan dy="2.3">（</tspan><tspan dy="-2.3">Hz</tspan><tspan dy="2.3">）</tspan></text>
<text class="s b" x="1031.5" y="646.8"><tspan>L2 </tspan><tspan dy="2.3">线</tspan><tspan dy="-2.3"> CE102 </tspan><tspan dy="2.3">频谱图</tspan></text>
<text class="s" x="575.3" y="719.3">Level dB(μV)</text>
<g class="chart" id="c3">
<path class="grid" d="M588.8 976.0H1159.6M588.8 952.1H1159.6M588.8 928.1H1159.6M588.8 904.2H1159.6M588.8 880.2H1159.6M588.8 856.3H1159.6M588.8 832.3H1159.6M588.8 808.4H1159.6M588.8 784.4H1159.6M588.8 760.5H1159.6M588.8 736.5H1159.6M659.1 736.5V995.0M703.2 736.5V995.0M734.5 736.5V995.0M758.7 736.5V995.0M778.5 736.5V995.0M795.3 736.5V995.0M809.8 736.5V995.0M834.0 736.5V995.0M909.4 736.5V995.0M953.4 736.5V995.0M984.7 736.5V995.0M1008.9 736.5V995.0M1028.8 736.5V995.0M1045.5 736.5V995.0M1060.0 736.5V995.0M1084.3 736.5V995.0M1159.6 736.5V995.0"/>
<path class="lim" d="M583.8 753.3L878.1 809.8L1008.9 809.8L1008.9 825.1L1159.6 825.1"/>
<path class="tr" d="M584.3 842.5L588.0 837.2L592.2 828.9L596.4 820.9L599.5 820.5L601.6 824.7L604.8 833.1L607.9 834.1L611.5 842.5L613.6 838.3L616.9 837.2L619.9 835.1L622.6 840.4L625.7 849.8L628.9 858.2L632.0 863.4L634.7 862.4L637.2 867.6L639.7 857.1L642.0 862.4L645.6 857.1L648.7 864.5L650.4 862.4L652.9 849.8L656.1 833.1L659.6 820.1L661.7 828.9L664.4 847.7L666.5 857.1L668.6 858.2L671.8 866.6L676.0 874.9L680.1 880.2L683.3 874.9L685.4 876.0L688.9 868.6L691.7 874.9L693.8 876.0L696.9 881.2L700.0 878.1L701.5 864.5L703.2 856.5L704.9 870.7L706.9 885.4L708.0 894.8L709.9 888.5L711.6 893.8L713.2 889.6L715.3 905.3L717.4 899.0L719.5 906.3L721.6 902.1L723.7 904.2L726.2 898.0L729.3 890.6L732.5 890.6L734.2 879.5L736.3 885.4L738.8 887.5L741.9 886.4L744.0 893.8L745.5 885.4L747.6 889.6L748.8 884.3L751.3 895.9L753.4 898.0L756.6 886.4L758.7 894.8L760.8 893.8L762.8 902.1L764.9 912.6L766.4 911.6L768.1 922.0L770.6 929.4L772.7 926.2L775.4 933.5L778.5 939.8L781.7 937.7L784.4 941.9L786.9 933.5L790.1 948.2L793.2 939.8L793.6 937.3L794.3 936.9L794.9 939.9L795.6 939.9L796.2 943.3L796.9 943.1L797.5 942.4L798.2 940.2L798.8 941.1L799.4 945.8L800.0 945.3L800.7 943.3L801.3 942.1L801.9 948.1L802.5 941.5L803.1 945.5L803.7 947.1L804.3 942.9L804.9 946.3L805.5 940.6L806.1 947.1L806.7 944.8L807.3 939.5L807.9 946.4L808.5 941.8L809.0 948.5L809.6 942.6L810.2 944.3L810.7 945.8L811.3 944.0L811.9 945.9L812.4 943.5L813.0 947.4L813.5 945.5L814.1 946.2L814.6 938.1L815.2 949.4L815.7 946.0L816.3 940.3L816.8 946.4L817.3 947.6L817.9 949.6L818.4 942.9L818.9 951.4L819.4 946.0L819.9 954.2L820.5 946.1L821.0 948.8L821.5 945.5L822.0 943.1L822.5 950.2L823.0 949.7L823.5 951.7L824.0 949.6L824.5 945.0L825.0 941.5L825.5 944.8L826.0 944.7L826.5 944.3L827.0 948.9L827.5 948.1L828.0 946.2L828.4 947.6L828.9 946.6L829.4 947.8L829.9 949.6L830.3 950.3L830.8 945.0L831.3 942.3L831.8 952.0L832.2 947.7L832.7 951.0L833.1 941.9L833.6 946.3L834.1 947.5L834.5 942.7L835.0 945.7L835.4 949.9L835.9 951.1L836.3 952.8L836.8 944.7L837.2 942.9L837.7 949.3L838.1 950.8L838.5 948.3L839.0 943.3L839.4 950.3L839.8 950.4L840.3 949.6L840.7 946.2L841.1 948.8L841.6 950.5L842.0 946.0L842.4 941.7L842.8 949.0L843.2 949.6L843.7 948.0L844.1 951.0L844.5 946.0L844.9 947.8L845.3 947.0L845.7 950.0L846.1 953.5L846.5 947.3L847.0 955.1L847.4 953.4L847.8 950.9L848.2 950.2L848.6 954.3L849.0 947.6L849.4 947.9L849.8 944.7L850.1 949.9L850.5 952.9L850.9 950.1L851.3 949.8L851.7 947.7L852.1 948.9L852.5 943.5L852.9 951.9L853.3 947.0L853.6 944.7L854.0 945.9L854.4 945.6L854.8 951.4L855.1 952.1L855.5 943.9L855.9 951.6L856.3 951.5L856.6 946.5L857.0 943.5L857.4 946.0L857.7 946.4L858.1 949.7L858.5 947.4L858.8 941.7L859.2 949.4L859.6 943.4L859.9 951.7L860.3 944.5L860.6 946.3L861.0 945.8L861.4 946.8L861.7 953.1L862.1 951.6L862.4 950.8L862.8 949.8L863.1 943.5L863.5 947.0L863.8 946.9L864.2 945.4L864.5 950.5L864.9 946.3L865.2 946.4L865.5 945.3L865.9 941.8L866.2 950.9L866.6 953.4L866.9 949.5L867.2 945.6L867.6 940.7L867.9 949.5L868.2 953.0L868.6 949.9L868.9 952.1L869.2 954.0L869.6 952.8L869.9 947.5L870.2 952.6L870.5 951.6L870.9 943.8L871.2 947.6L871.5 944.2L871.8 948.7L872.2 951.0L872.5 945.4L872.8 942.1L873.1 953.5L873.4 950.4L873.8 954.1L874.1 944.6L874.4 952.7L874.7 956.2L875.0 956.0L875.3 948.4L875.6 950.1L876.0 948.7L876.3 952.6L876.6 952.7L876.9 949.5L877.2 944.6L877.5 951.8L877.8 947.6L878.1 947.6L878.1 920.6L882.7 920.6L887.9 922.7L891.1 919.9L894.2 921.0L897.3 910.5L899.9 909.1L901.9 911.6L904.7 919.9L907.8 924.1L910.9 927.3L914.1 922.0L917.2 926.2L920.4 924.1L924.6 928.3L928.7 926.2L935.0 927.3L939.2 929.4L943.4 927.3L949.7 929.4L950.1 929.9L952.0 929.4L953.8 931.6L955.6 930.8L957.3 928.2L959.1 929.5L960.8 931.9L962.4 928.0L964.1 929.7L965.7 931.0L967.3 931.1L968.9 929.8L970.5 926.7L972.0 926.7L973.5 929.4L975.0 929.6L976.5 933.2L978.0 927.4L979.4 931.0L980.8 930.3L982.2 925.9L983.6 927.5L984.9 929.2L986.3 928.0L987.6 928.7L988.9 929.8L990.2 927.4L991.5 929.8L992.8 927.7L994.0 927.9L995.3 930.0L996.5 927.9L997.7 924.1L998.9 932.0L1000.1 929.0L1001.3 928.7L1002.4 930.4L1003.6 928.2L1004.7 931.1L1005.8 926.4L1007.0 930.2L1008.1 927.9L1009.1 927.4L1010.2 932.5L1011.3 927.2L1012.4 932.5L1013.4 930.3L1014.4 931.9L1015.5 927.0L1016.5 931.4L1017.5 931.9L1018.5 928.8L1019.5 928.7L1020.5 933.9L1021.4 929.4L1022.4 928.2L1023.4 927.8L1024.3 930.0L1025.3 929.7L1026.2 929.4L1027.1 922.0L1028.0 928.4L1028.9 930.1L1029.8 932.2L1030.7 927.0L1031.6 931.3L1032.5 933.0L1033.4 926.3L1034.2 926.8L1035.1 927.0L1035.9 925.3L1036.8 930.1L1037.6 925.3L1038.4 930.3L1039.3 932.3L1040.1 925.8L1040.9 928.5L1041.7 925.1L1042.5 930.9L1043.3 927.7L1044.1 928.7L1044.9 929.4L1045.7 930.4L1046.4 928.5L1047.2 929.3L1048.0 928.1L1048.7 929.6L1049.5 926.8L1050.2 929.5L1051.0 925.1L1051.7 928.3L1052.4 933.5L1053.1 929.5L1053.9 926.6L1054.6 929.9L1055.3 927.2L1056.0 925.7L1056.7 927.8L1057.4 931.1L1058.1 930.3L1058.8 916.8L1059.5 927.4L1060.1 927.0L1060.8 932.5L1061.5 930.1L1062.2 927.4L1062.8 924.7L1063.5 926.4L1064.1 935.1L1064.8 926.9L1065.4 929.4L1066.1 930.1L1066.7 929.2L1067.4 929.0L1068.0 926.4L1068.6 927.2L1069.3 933.6L1069.9 927.9L1070.5 931.7L1071.1 925.7L1071.7 929.1L1072.3 930.3L1072.9 932.2L1073.5 927.1L1074.1 931.2L1074.7 930.7L1075.3 928.0L1075.9 930.9L1076.5 927.6L1077.1 927.8L1077.7 929.7L1078.2 924.0L1078.8 929.5L1079.4 927.3L1079.9 926.2L1080.5 928.7L1081.1 931.6L1081.6 928.7L1082.2 932.8L1082.7 926.9L1083.3 926.5L1083.8 933.5L1084.4 930.7L1084.9 932.0L1085.5 927.7L1086.0 931.6L1086.5 930.3L1087.1 931.3L1087.6 929.7L1088.1 932.6L1088.6 928.0L1089.2 927.3L1089.7 926.0L1090.2 932.5L1090.7 927.8L1091.2 927.0L1091.7 927.3L1092.2 928.5L1092.7 926.4L1093.2 928.9L1093.7 928.0L1094.2 928.2L1094.7 927.2L1095.2 929.7L1095.7 928.4L1096.2 929.9L1096.7 930.2L1097.2 930.4L1097.6 924.1L1098.1 928.2L1098.6 927.5L1099.1 931.5L1099.5 925.6L1100.0 927.7L1100.5 928.8L1101.0 928.7L1101.4 932.0L1101.9 928.4L1102.3 931.9L1102.8 925.8L1103.3 924.9L1103.7 932.6L1104.2 930.6L1104.6 930.7L1105.1 929.8L1105.5 930.7L1106.0 926.4L1106.4 931.9L1106.9 928.1L1107.3 932.0L1107.7 929.7L1108.2 924.4L1108.6 926.2L1109.0 932.3L1109.5 929.1L1109.9 928.4L1110.3 930.1L1110.8 928.3L1111.2 928.0L1111.6 929.7L1112.0 929.8L1112.4 933.3L1112.9 929.5L1113.3 934.3L1113.7 934.1L1114.1 933.8L1114.5 932.1L1114.9 929.7L1115.3 929.7L1115.7 929.0L1116.2 927.5L1116.6 929.2L1117.0 927.7L1117.4 933.6L1117.8 930.7L1118.2 928.2L1118.6 924.3L1119.0 929.2L1119.3 928.2L1119.7 926.5L1120.1 926.3L1120.5 923.4L1120.9 930.7L1121.3 929.1L1121.7 935.5L1122.1 929.1L1122.5 928.8L1122.8 932.9L1123.2 929.5L1123.6 929.6L1124.0 928.2L1124.3 927.6L1124.7 933.0L1125.1 931.7L1125.5 933.6L1125.8 928.2L1126.2 929.2L1126.6 926.8L1126.9 931.6L1127.3 925.4L1127.7 930.5L1128.0 931.9L1128.4 932.7L1128.8 926.6L1129.1 931.8L1129.5 927.1L1129.8 922.7L1130.2 925.5L1130.6 932.0L1130.9 933.2L1131.3 927.4L1131.6 927.0L1132.0 928.0L1132.3 935.2L1132.7 931.5L1133.0 927.5L1133.4 924.2L1133.7 927.1L1134.0 932.0L1134.4 933.7L1134.7 928.2L1135.1 927.0L1135.4 927.5L1135.8 923.9L1136.1 931.2L1136.4 926.0L1136.8 931.6L1137.1 924.3L1137.4 925.5L1137.8 929.5L1138.1 926.8L1138.4 930.8L1138.8 928.7L1139.1 925.7L1139.4 930.3L1139.7 930.9L1140.1 923.7L1140.4 933.4L1140.7 930.0L1141.0 930.6L1141.4 923.8L1141.7 926.8L1142.0 927.7L1142.3 931.4L1142.6 924.8L1143.0 926.3L1143.3 923.3L1143.6 928.0L1143.9 929.5L1144.2 924.2L1144.5 927.0L1144.8 929.9L1145.1 932.7L1145.5 930.3L1145.8 927.7L1146.1 925.5L1146.4 926.1L1146.7 926.8L1147.0 928.9L1147.3 928.3L1147.6 932.8L1147.9 929.2L1148.2 925.7L1148.5 932.5L1148.8 930.9L1149.1 928.7L1149.4 926.5L1149.7 923.5L1150.0 925.7L1150.3 930.8L1150.6 926.3L1150.9 924.9L1151.2 928.9L1151.5 929.0L1151.8 929.9L1152.1 930.0L1152.4 932.0L1152.6 926.1L1152.9 930.9L1153.2 925.7L1153.5 930.1L1153.8 928.8L1154.1 928.9L1154.4 930.8L1154.6 928.2L1154.9 931.1L1155.2 930.5L1155.5 928.6L1155.8 926.8L1156.1 926.3L1156.3 926.8L1156.6 927.7L1156.9 928.1L1157.2 934.4L1157.5 929.8L1157.7 930.2L1158.0 925.9L1158.3 926.3L1158.6 927.3L1158.8 928.6L1159.1 925.4L1159.4 932.3L1159.7 926.7L1159.9 930.9"/>
<path class="ax" d="M583.8 736.5V1004.5M579.3 1000.0H1159.6M579.3 976.0h9M579.3 952.1h9M579.3 928.1h9M579.3 904.2h9M579.3 880.2h9M579.3 856.3h9M579.3 832.3h9M579.3 808.4h9M579.3 784.4h9M579.3 760.5h9M579.3 736.5h9M659.1 995.5v9M703.2 995.5v9M734.5 995.5v9M758.7 995.5v9M778.5 995.5v9M795.3 995.5v9M809.8 995.5v9M834.0 995.5v9M909.4 995.5v9M953.4 995.5v9M984.7 995.5v9M1008.9 995.5v9M1028.8 995.5v9M1045.5 995.5v9M1060.0 995.5v9M1084.3 995.5v9M1159.6 995.5v9"/>
<text class="tk" text-anchor="end" transform="translate(577.8 1005.2) scale(1.12 1)">0</text>
<text class="tk" text-anchor="end" transform="translate(577.8 957.3) scale(1.12 1)">20</text>
<text class="tk" text-anchor="end" transform="translate(577.8 909.4) scale(1.12 1)">40</text>
<text class="tk" text-anchor="end" transform="translate(577.8 861.5) scale(1.12 1)">60</text>
<text class="tk" text-anchor="end" transform="translate(577.8 813.6) scale(1.12 1)">80</text>
<text class="tk" text-anchor="end" transform="translate(577.8 765.7) scale(1.12 1)">100</text>
<text class="tk" text-anchor="end" transform="translate(577.8 741.7) scale(1.12 1)">110</text>
<text class="tk" text-anchor="middle" transform="translate(585.2 1023.8) scale(1.12 1)">10k</text>
<text class="tk" text-anchor="middle" transform="translate(660.2 1023.8) scale(1.12 1)">20k</text>
<text class="tk" text-anchor="middle" transform="translate(703.7 1023.8) scale(1.12 1)">30k</text>
<text class="tk" text-anchor="middle" transform="translate(734.1 1023.8) scale(1.12 1)">40</text>
<text class="tk" text-anchor="middle" transform="translate(758.3 1023.8) scale(1.12 1)">50</text>
<text class="tk" text-anchor="middle" transform="translate(778.1 1023.8) scale(1.12 1)">60</text>
<text class="tk" text-anchor="middle" transform="translate(809.4 1023.8) scale(1.12 1)">80</text>
<text class="tk" text-anchor="middle" transform="translate(835.7 1023.8) scale(1.12 1)">100k</text>
<text class="tk" text-anchor="middle" transform="translate(908.4 1023.8) scale(1.12 1)">200</text>
<text class="tk" text-anchor="middle" transform="translate(953.0 1023.8) scale(1.12 1)">300</text>
<text class="tk" text-anchor="middle" transform="translate(984.3 1023.8) scale(1.12 1)">400</text>
<text class="tk" text-anchor="middle" transform="translate(1009.6 1023.8) scale(1.12 1)">500</text>
<text class="tk" text-anchor="middle" transform="translate(1059.6 1023.8) scale(1.12 1)">800</text>
<text class="tk" text-anchor="middle" transform="translate(1083.9 1023.8) scale(1.12 1)">1M</text>
<text class="tk" text-anchor="middle" transform="translate(1159.2 1023.8) scale(1.12 1)">2M</text>
</g>
<text class="s" x="755.7" y="1059.9"><tspan>Frequency</tspan><tspan dy="2.3">（</tspan><tspan dy="-2.3">Hz</tspan><tspan dy="2.3">）</tspan></text>
<text class="s b" x="736.7" y="1097.0"><tspan>L3 </tspan><tspan dy="2.3">线</tspan><tspan dy="-2.3"> CE102 </tspan><tspan dy="2.3">频谱图</tspan></text>
<text class="s" x="255.9" y="1207.5">Level dB(μV)</text>
<g class="chart" id="c4">
<path class="grid" d="M269.5 1468.3H839.9M269.5 1444.4H839.9M269.5 1420.4H839.9M269.5 1396.4H839.9M269.5 1372.5H839.9M269.5 1348.5H839.9M269.5 1324.6H839.9M269.5 1300.6H839.9M269.5 1276.6H839.9M269.5 1252.7H839.9M269.5 1228.7H839.9M339.8 1228.7V1487.3M383.8 1228.7V1487.3M415.1 1228.7V1487.3M439.3 1228.7V1487.3M459.1 1228.7V1487.3M475.8 1228.7V1487.3M490.3 1228.7V1487.3M514.6 1228.7V1487.3M589.8 1228.7V1487.3M633.9 1228.7V1487.3M665.1 1228.7V1487.3M689.3 1228.7V1487.3M709.1 1228.7V1487.3M725.9 1228.7V1487.3M740.4 1228.7V1487.3M764.6 1228.7V1487.3M839.9 1228.7V1487.3"/>
<path class="lim" d="M264.5 1245.5L558.6 1302.0L689.3 1302.0L689.3 1317.4L839.9 1317.4"/>
<path class="tr" d="M264.3 1290.6L268.0 1300.0L272.2 1314.7L276.4 1327.2L280.2 1335.6L283.7 1338.8L287.9 1332.5L291.5 1327.7L295.2 1330.4L298.4 1332.5L301.5 1331.0L304.7 1333.5L307.8 1346.1L309.9 1357.6L312.4 1349.2L315.1 1351.9L317.9 1352.4L320.4 1345.0L323.5 1352.4L326.2 1354.0L328.7 1347.1L331.9 1341.9L335.0 1335.6L338.2 1325.1L339.8 1320.3L341.7 1330.4L344.4 1337.7L345.9 1343.6L347.6 1335.2L349.7 1341.9L352.2 1352.4L354.3 1361.8L356.4 1361.2L358.1 1368.1L360.1 1370.2L361.4 1365.3L363.3 1373.3L364.8 1388.4L366.4 1373.3L368.5 1368.1L370.0 1382.1L371.7 1364.5L373.1 1366.0L375.8 1377.5L377.9 1384.8L381.1 1388.0L382.8 1372.9L384.9 1380.6L387.4 1390.0L389.5 1393.8L391.6 1389.0L394.7 1389.6L397.8 1397.4L400.3 1394.2L403.1 1401.6L405.2 1394.2L408.3 1385.4L411.4 1385.9L413.5 1383.8L415.0 1375.0L416.7 1380.6L418.8 1387.5L420.4 1378.5L421.9 1370.8L423.4 1383.8L425.0 1377.5L427.1 1386.9L429.2 1392.1L430.9 1396.3L433.4 1388.0L435.1 1390.0L437.0 1376.4L438.7 1390.0L440.1 1402.6L441.8 1394.2L442.8 1412.0L444.3 1392.1L445.6 1402.6L447.0 1421.5L448.5 1400.5L450.2 1415.2L451.2 1404.7L452.3 1426.7L454.4 1416.2L456.5 1425.6L458.1 1412.0L460.6 1423.5L462.7 1416.2L464.2 1396.3L465.5 1419.4L466.9 1399.5L468.6 1417.3L470.1 1397.4L471.5 1411.0L472.8 1395.3L473.6 1421.5L474.9 1389.0L476.3 1423.5L478.4 1431.9L478.9 1428.4L479.5 1434.1L480.1 1434.8L480.7 1434.7L481.4 1435.8L482.0 1435.0L482.6 1434.8L483.2 1429.8L483.8 1432.8L484.4 1428.8L485.0 1436.2L485.6 1435.5L486.2 1434.3L486.8 1432.8L487.4 1433.5L488.0 1439.7L488.5 1439.5L489.1 1435.0L489.7 1438.5L490.3 1431.2L490.8 1430.4L491.4 1434.2L492.0 1433.2L492.5 1434.1L493.1 1436.1L493.6 1441.9L494.2 1434.0L494.7 1435.9L495.3 1419.4L495.8 1435.9L496.4 1438.5L496.9 1421.5L497.4 1433.0L498.0 1436.8L498.5 1422.5L499.0 1437.5L499.6 1432.6L500.1 1432.1L500.6 1430.8L501.1 1438.3L501.6 1437.5L502.1 1427.7L502.7 1431.0L503.2 1436.3L503.7 1435.4L504.2 1433.7L504.7 1435.1L505.2 1439.4L505.7 1439.1L506.2 1437.7L506.7 1439.2L507.1 1436.4L507.6 1438.2L508.1 1438.2L508.6 1439.6L509.1 1438.0L509.6 1437.8L510.0 1437.9L510.5 1436.6L511.0 1444.1L511.5 1439.6L511.9 1439.4L512.4 1444.3L512.9 1442.0L513.3 1434.2L513.8 1440.2L514.2 1440.6L514.7 1443.4L515.1 1441.9L515.6 1440.4L516.0 1435.2L516.5 1436.1L516.9 1439.1L517.4 1439.8L517.8 1435.7L518.3 1437.4L518.7 1437.4L519.2 1438.6L519.6 1439.4L520.0 1437.7L520.5 1435.1L520.9 1441.9L521.3 1442.9L521.7 1422.5L522.2 1441.4L522.6 1439.8L523.0 1440.4L523.4 1425.6L523.9 1436.5L524.3 1440.2L524.7 1441.4L525.1 1423.5L525.5 1444.1L525.9 1444.8L526.3 1444.4L526.8 1445.2L527.2 1441.9L527.6 1438.9L528.0 1438.4L528.4 1438.0L528.8 1441.1L529.2 1440.9L529.6 1443.4L530.0 1434.9L530.4 1448.8L530.8 1448.7L531.1 1441.3L531.5 1443.6L531.9 1442.9L532.3 1442.3L532.7 1440.7L533.1 1441.0L533.5 1438.8L533.9 1442.0L534.2 1441.4L534.6 1442.5L535.0 1448.7L535.4 1441.6L535.7 1441.6L536.1 1443.4L536.5 1438.0L536.9 1442.9L537.2 1444.7L537.6 1443.5L538.0 1440.3L538.3 1439.9L538.7 1440.8L539.1 1443.9L539.4 1446.6L539.8 1441.0L540.2 1439.5L540.5 1442.8L540.9 1442.3L541.2 1438.6L541.6 1439.2L541.9 1441.3L542.3 1443.8L542.7 1437.7L543.0 1438.3L543.4 1427.7L543.7 1437.6L544.1 1442.0L544.4 1442.8L544.7 1441.3L545.1 1438.3L545.4 1441.5L545.8 1440.6L546.1 1442.8L546.5 1438.9L546.8 1445.3L547.1 1436.2L547.5 1441.2L547.8 1441.8L548.1 1445.0L548.5 1439.7L548.8 1443.6L549.1 1439.9L549.5 1444.2L549.8 1447.6L550.1 1440.5L550.5 1443.3L550.8 1438.7L551.1 1445.1L551.4 1445.9L551.8 1442.0L552.1 1438.0L552.4 1443.2L552.7 1445.7L553.1 1445.5L553.4 1444.6L553.7 1435.7L554.0 1439.6L554.3 1446.7L554.6 1437.8L555.0 1445.7L555.3 1448.3L555.6 1444.5L555.9 1445.7L556.2 1440.8L556.5 1437.8L556.8 1441.6L557.1 1441.3L557.4 1441.8L557.8 1444.3L558.6 1444.3L558.6 1409.9L561.6 1410.6L565.8 1414.1L570.0 1413.5L574.2 1416.8L579.4 1414.1L584.7 1413.5L587.8 1416.2L590.5 1408.5L593.0 1413.5L597.2 1416.2L600.4 1414.1L604.6 1411.4L607.1 1418.3L610.8 1412.7L614.0 1412.7L616.1 1419.4L620.3 1417.3L625.5 1416.2L629.7 1418.3L633.9 1421.5L639.1 1418.3L643.3 1417.3L646.4 1420.4L652.7 1417.3L655.8 1420.4L656.3 1419.7L657.7 1420.4L659.2 1420.8L660.6 1420.0L662.0 1423.5L663.4 1420.9L664.8 1420.3L666.1 1419.7L667.5 1418.9L668.8 1422.8L670.1 1420.5L671.4 1418.0L672.6 1419.1L673.9 1420.0L675.1 1419.3L676.4 1422.6L677.6 1417.9L678.8 1421.4L680.0 1420.7L681.2 1417.8L682.3 1420.5L683.5 1420.2L684.6 1421.4L685.8 1418.8L686.9 1420.2L688.0 1415.2L689.1 1416.2L690.2 1420.4L691.2 1420.7L692.3 1417.7L693.3 1416.1L694.4 1420.4L695.4 1412.0L696.4 1415.4L697.4 1419.2L698.4 1419.1L699.4 1414.7L700.4 1412.4L701.4 1421.1L702.4 1417.6L703.3 1414.9L704.3 1417.3L705.2 1419.5L706.2 1410.8L707.1 1419.9L708.0 1418.9L708.9 1414.1L709.8 1418.9L710.7 1412.2L711.6 1419.9L712.5 1418.1L713.4 1423.1L714.2 1415.9L715.1 1417.7L715.9 1420.5L716.8 1416.4L717.6 1416.5L718.5 1417.5L719.3 1418.4L720.1 1416.1L720.9 1420.1L721.7 1420.4L722.5 1419.5L723.3 1423.5L724.1 1418.9L724.9 1422.9L725.7 1418.7L726.5 1421.9L727.2 1415.8L728.0 1420.9L728.8 1420.2L729.5 1419.7L730.3 1419.6L731.0 1420.4L731.7 1419.7L732.5 1416.6L733.2 1420.3L733.9 1420.6L734.6 1420.7L735.3 1419.5L736.1 1421.5L736.8 1423.6L737.5 1421.3L738.2 1420.7L738.8 1424.8L739.5 1424.0L740.2 1423.8L740.9 1424.4L741.6 1421.0L742.2 1421.4L742.9 1424.2L743.6 1420.4L744.2 1421.4L744.9 1422.5L745.5 1422.5L746.2 1421.0L746.8 1423.9L747.4 1421.2L748.1 1423.3L748.7 1424.1L749.3 1423.1L750.0 1423.3L750.6 1418.8L751.2 1418.4L751.8 1420.1L752.4 1422.6L753.0 1425.1L753.6 1418.6L754.2 1422.2L754.8 1419.4L755.4 1419.7L756.0 1420.8L756.6 1423.1L757.2 1421.9L757.8 1424.3L758.3 1419.0L758.9 1423.5L759.5 1423.6L760.0 1421.5L760.6 1422.5L761.2 1420.0L761.7 1418.6L762.3 1420.3L762.8 1419.7L763.4 1427.2L763.9 1420.1L764.5 1425.4L765.0 1421.8L765.6 1422.0L766.1 1423.1L766.6 1419.3L767.2 1423.5L767.7 1422.2L768.2 1417.4L768.7 1422.7L769.3 1422.6L769.8 1422.3L770.3 1425.2L770.8 1420.1L771.3 1422.4L771.8 1423.0L772.3 1418.8L772.9 1424.2L773.4 1417.4L773.9 1417.7L774.4 1422.4L774.8 1418.2L775.3 1420.8L775.8 1416.8L776.3 1421.2L776.8 1418.1L777.3 1421.9L777.8 1417.0L778.3 1422.2L778.7 1420.3L779.2 1421.2L779.7 1420.8L780.2 1421.3L780.6 1417.5L781.1 1414.7L781.6 1421.1L782.0 1418.5L782.5 1419.8L782.9 1422.1L783.4 1415.7L783.9 1418.9L784.3 1419.3L784.8 1418.1L785.2 1421.8L785.7 1420.5L786.1 1418.7L786.5 1418.3L787.0 1423.0L787.4 1419.1L787.9 1422.4L788.3 1422.1L788.7 1415.9L789.2 1418.0L789.6 1420.9L790.0 1421.8L790.5 1422.9L790.9 1423.0L791.3 1423.6L791.7 1419.8L792.2 1420.3L792.6 1422.9L793.0 1419.7L793.4 1423.6L793.8 1416.6L794.3 1422.5L794.7 1420.3L795.1 1415.6L795.5 1423.4L795.9 1421.6L796.3 1420.8L796.7 1417.9L797.1 1419.5L797.5 1424.8L797.9 1418.5L798.3 1414.3L798.7 1418.5L799.1 1417.5L799.5 1420.4L799.9 1419.7L800.3 1418.3L800.7 1418.5L801.1 1423.5L801.5 1416.8L801.8 1425.9L802.2 1419.2L802.6 1417.8L803.0 1422.8L803.4 1422.2L803.7 1417.9L804.1 1422.7L804.5 1415.7L804.9 1418.2L805.3 1423.7L805.6 1420.0L806.0 1417.1L806.4 1422.0L806.7 1423.1L807.1 1420.6L807.5 1415.8L807.8 1419.7L808.2 1421.7L808.6 1422.7L808.9 1425.6L809.3 1419.9L809.6 1419.3L810.0 1420.5L810.4 1423.9L810.7 1418.0L811.1 1424.1L811.4 1414.1L811.8 1422.7L812.1 1418.7L812.5 1421.8L812.8 1422.4L813.2 1417.3L813.5 1420.3L813.9 1421.2L814.2 1422.1L814.6 1418.0L814.9 1417.8L815.2 1415.3L815.6 1427.1L815.9 1420.0L816.3 1419.9L816.6 1416.4L816.9 1423.0L817.3 1419.0L817.6 1424.4L817.9 1422.8L818.3 1420.5L818.6 1422.5L818.9 1417.4L819.3 1419.6L819.6 1418.9L819.9 1417.0L820.2 1420.5L820.6 1420.1L820.9 1424.4L821.2 1413.9L821.5 1418.6L821.8 1417.9L822.2 1419.2L822.5 1421.6L822.8 1421.5L823.1 1420.5L823.4 1419.1L823.8 1421.8L824.1 1421.4L824.4 1415.3L824.7 1419.7L825.0 1416.6L825.3 1417.1L825.6 1420.8L825.9 1420.5L826.2 1420.7L826.6 1418.0L826.9 1419.8L827.2 1417.8L827.5 1421.4L827.8 1422.3L828.1 1425.2L828.4 1423.8L828.7 1418.1L829.0 1419.1L829.3 1417.7L829.6 1421.2L829.9 1425.8L830.2 1422.3L830.5 1414.2L830.8 1416.8L831.1 1416.7L831.4 1421.7L831.7 1420.3L831.9 1421.1L832.2 1425.2L832.5 1418.0L832.8 1417.9L833.1 1425.7L833.4 1421.2L833.7 1418.1L834.0 1414.6L834.3 1416.0L834.5 1413.6L834.8 1420.5L835.1 1420.4L835.4 1423.0L835.7 1419.9L836.0 1418.3L836.2 1418.2L836.5 1425.5L836.8 1415.3L837.1 1420.7L837.4 1420.3L837.6 1422.0L837.9 1419.1L838.2 1421.6L838.5 1422.5L838.7 1419.8L839.0 1418.9L839.3 1419.7L839.6 1417.5L839.8 1419.6"/>
<path class="ax" d="M264.5 1228.7V1496.8M260.0 1492.3H839.9M260.0 1468.3h9M260.0 1444.4h9M260.0 1420.4h9M260.0 1396.4h9M260.0 1372.5h9M260.0 1348.5h9M260.0 1324.6h9M260.0 1300.6h9M260.0 1276.6h9M260.0 1252.7h9M260.0 1228.7h9M339.8 1487.8v9M383.8 1487.8v9M415.1 1487.8v9M439.3 1487.8v9M459.1 1487.8v9M475.8 1487.8v9M490.3 1487.8v9M514.6 1487.8v9M589.8 1487.8v9M633.9 1487.8v9M665.1 1487.8v9M689.3 1487.8v9M709.1 1487.8v9M725.9 1487.8v9M740.4 1487.8v9M764.6 1487.8v9M839.9 1487.8v9"/>
<text class="tk" text-anchor="end" transform="translate(258.5 1497.5) scale(1.12 1)">0</text>
<text class="tk" text-anchor="end" transform="translate(258.5 1449.6) scale(1.12 1)">20</text>
<text class="tk" text-anchor="end" transform="translate(258.5 1401.6) scale(1.12 1)">40</text>
<text class="tk" text-anchor="end" transform="translate(258.5 1353.7) scale(1.12 1)">60</text>
<text class="tk" text-anchor="end" transform="translate(258.5 1305.8) scale(1.12 1)">80</text>
<text class="tk" text-anchor="end" transform="translate(258.5 1257.9) scale(1.12 1)">100</text>
<text class="tk" text-anchor="end" transform="translate(258.5 1233.9) scale(1.12 1)">110</text>
<text class="tk" text-anchor="middle" transform="translate(265.9 1516.1) scale(1.12 1)">10k</text>
<text class="tk" text-anchor="middle" transform="translate(340.9 1516.1) scale(1.12 1)">20k</text>
<text class="tk" text-anchor="middle" transform="translate(384.3 1516.1) scale(1.12 1)">30k</text>
<text class="tk" text-anchor="middle" transform="translate(414.7 1516.1) scale(1.12 1)">40</text>
<text class="tk" text-anchor="middle" transform="translate(438.9 1516.1) scale(1.12 1)">50</text>
<text class="tk" text-anchor="middle" transform="translate(458.7 1516.1) scale(1.12 1)">60</text>
<text class="tk" text-anchor="middle" transform="translate(489.9 1516.1) scale(1.12 1)">80</text>
<text class="tk" text-anchor="middle" transform="translate(516.3 1516.1) scale(1.12 1)">100k</text>
<text class="tk" text-anchor="middle" transform="translate(588.8 1516.1) scale(1.12 1)">200</text>
<text class="tk" text-anchor="middle" transform="translate(633.5 1516.1) scale(1.12 1)">300</text>
<text class="tk" text-anchor="middle" transform="translate(664.7 1516.1) scale(1.12 1)">400</text>
<text class="tk" text-anchor="middle" transform="translate(690.0 1516.1) scale(1.12 1)">500</text>
<text class="tk" text-anchor="middle" transform="translate(740.0 1516.1) scale(1.12 1)">800</text>
<text class="tk" text-anchor="middle" transform="translate(764.2 1516.1) scale(1.12 1)">1M</text>
<text class="tk" text-anchor="middle" transform="translate(839.5 1516.1) scale(1.12 1)">2M</text>
</g>
<text class="s" x="459.8" y="1551.0"><tspan>Frequency</tspan><tspan dy="2.3">（</tspan><tspan dy="-2.3">Hz</tspan><tspan dy="2.3">）</tspan></text>
<text class="s b" x="431.8" y="1588.7"><tspan>L1 </tspan><tspan dy="2.3">线</tspan><tspan dy="-2.3"> CE102 </tspan><tspan dy="2.3">频谱图</tspan></text>
<text class="s" x="850.5" y="1207.5">Level dB(μV)</text>
<g class="chart" id="c5">
<path class="grid" d="M903.9 1466.8H1480.7M903.9 1442.6H1480.7M903.9 1418.3H1480.7M903.9 1394.1H1480.7M903.9 1369.9H1480.7M903.9 1345.7H1480.7M903.9 1321.5H1480.7M903.9 1297.3H1480.7M903.9 1273.0H1480.7M903.9 1248.8H1480.7M903.9 1224.6H1480.7M975.0 1224.6V1486.0M1019.5 1224.6V1486.0M1051.1 1224.6V1486.0M1075.6 1224.6V1486.0M1095.7 1224.6V1486.0M1112.6 1224.6V1486.0M1127.2 1224.6V1486.0M1151.7 1224.6V1486.0M1227.9 1224.6V1486.0M1272.4 1224.6V1486.0M1304.0 1224.6V1486.0M1328.5 1224.6V1486.0M1348.5 1224.6V1486.0M1365.4 1224.6V1486.0M1380.1 1224.6V1486.0M1404.6 1224.6V1486.0M1480.7 1224.6V1486.0"/>
<path class="lim" d="M898.9 1241.6L1196.3 1298.7L1328.5 1298.7L1328.5 1314.2L1480.7 1314.2"/>
<path class="tr" d="M899.3 1287.9L902.0 1290.6L905.1 1297.9L909.3 1305.3L913.5 1308.4L917.7 1305.3L921.9 1301.1L925.0 1300.0L928.6 1296.3L932.3 1295.4L934.9 1301.1L938.6 1297.9L941.8 1303.2L947.0 1308.4L952.2 1312.6L957.5 1316.4L962.7 1317.2L965.8 1326.2L967.9 1333.1L971.1 1327.2L975.3 1319.9L976.7 1333.5L979.4 1337.7L981.5 1329.8L983.0 1340.8L985.1 1333.5L987.8 1340.8L991.0 1345.0L994.1 1349.2L997.2 1356.6L1000.4 1366.0L1003.5 1371.2L1005.6 1379.6L1007.3 1384.8L1009.4 1381.7L1011.9 1385.9L1014.0 1380.6L1016.1 1386.9L1018.2 1379.6L1019.6 1371.2L1021.3 1382.7L1023.4 1388.0L1024.9 1395.3L1027.0 1388.0L1028.6 1382.7L1030.7 1392.1L1033.3 1395.3L1035.3 1404.7L1037.4 1396.3L1040.2 1394.2L1042.3 1396.7L1044.3 1390.0L1046.4 1392.1L1048.5 1386.9L1050.6 1390.0L1052.7 1384.8L1055.2 1375.4L1056.9 1379.6L1059.0 1380.6L1062.1 1383.8L1064.2 1395.3L1066.3 1392.1L1068.0 1397.4L1070.1 1385.9L1072.0 1375.4L1073.7 1388.0L1075.8 1390.0L1077.8 1385.9L1079.3 1393.2L1081.4 1377.5L1082.2 1412.0L1083.5 1380.6L1085.2 1402.6L1086.8 1399.5L1087.7 1421.5L1089.4 1400.5L1091.5 1417.3L1093.1 1425.6L1094.6 1411.0L1096.7 1416.2L1098.8 1406.8L1099.4 1388.0L1100.9 1404.7L1102.3 1389.0L1104.0 1411.0L1105.7 1390.0L1107.2 1414.1L1108.6 1383.8L1110.3 1408.9L1111.8 1389.0L1112.8 1417.3L1114.5 1411.0L1116.6 1412.0L1117.6 1419.4L1119.7 1423.5L1121.8 1429.8L1123.9 1434.0L1127.0 1429.8L1129.6 1439.2L1131.2 1431.9L1131.9 1418.3L1134.4 1425.6L1136.5 1429.8L1139.6 1428.8L1140.0 1430.0L1140.5 1431.7L1141.0 1435.3L1141.6 1435.5L1142.1 1430.4L1142.6 1433.8L1143.1 1433.1L1143.6 1434.7L1144.1 1432.7L1144.5 1433.6L1145.0 1431.6L1145.5 1430.8L1146.0 1436.2L1146.5 1437.7L1147.0 1435.9L1147.5 1435.4L1147.9 1435.1L1148.4 1433.1L1148.9 1429.1L1149.4 1437.0L1149.8 1435.7L1150.3 1433.5L1150.8 1432.4L1151.2 1439.8L1151.7 1430.1L1152.2 1441.7L1152.6 1438.2L1153.1 1443.8L1153.5 1434.0L1154.0 1436.3L1154.4 1434.7L1154.9 1436.9L1155.3 1435.8L1155.8 1434.1L1156.2 1440.1L1156.7 1434.1L1157.1 1435.1L1157.5 1438.6L1158.0 1435.1L1158.4 1435.4L1158.8 1438.1L1159.3 1427.7L1159.7 1432.9L1160.1 1436.7L1160.6 1436.4L1161.0 1442.8L1161.4 1433.6L1161.8 1440.5L1162.2 1434.7L1162.7 1436.2L1163.1 1436.3L1163.5 1438.4L1163.9 1440.4L1164.3 1443.4L1164.7 1435.5L1165.1 1442.1L1165.5 1441.0L1166.0 1440.5L1166.4 1435.3L1166.8 1440.9L1167.2 1437.5L1167.6 1439.1L1168.0 1437.1L1168.4 1440.3L1168.8 1441.8L1169.2 1441.9L1169.5 1437.5L1169.9 1447.6L1170.3 1443.2L1170.7 1435.2L1171.1 1443.4L1171.5 1433.9L1171.9 1440.3L1172.3 1440.5L1172.6 1443.6L1173.0 1439.6L1173.4 1437.0L1173.8 1435.9L1174.2 1434.4L1174.5 1441.3L1174.9 1437.9L1175.3 1436.3L1175.6 1440.6L1176.0 1436.2L1176.4 1437.3L1176.8 1437.3L1177.1 1444.5L1177.5 1443.8L1177.8 1438.4L1178.2 1433.6L1178.6 1439.9L1178.9 1439.2L1179.3 1440.2L1179.7 1440.9L1180.0 1437.9L1180.4 1442.2L1180.7 1441.9L1181.1 1439.8L1181.4 1437.7L1181.8 1437.5L1182.1 1441.5L1182.5 1435.4L1182.8 1438.6L1183.2 1436.6L1183.5 1434.5L1183.9 1441.3L1184.2 1439.2L1184.5 1439.4L1184.9 1442.3L1185.2 1434.2L1185.6 1439.1L1185.9 1440.3L1186.2 1442.2L1186.6 1435.7L1186.9 1441.8L1187.3 1440.2L1187.6 1444.1L1187.9 1443.3L1188.2 1441.4L1188.6 1446.8L1188.9 1439.5L1189.2 1438.1L1189.6 1438.4L1189.9 1436.4L1190.2 1439.5L1190.5 1433.2L1190.9 1439.3L1191.2 1441.1L1191.5 1443.0L1191.8 1438.5L1192.1 1444.4L1192.5 1437.5L1192.8 1439.3L1193.1 1433.4L1193.4 1437.2L1193.7 1437.1L1194.0 1444.8L1194.4 1441.6L1194.7 1436.2L1195.0 1441.6L1196.3 1441.6L1196.3 1405.8L1198.7 1407.8L1202.9 1414.1L1207.1 1412.0L1210.2 1413.5L1214.9 1410.6L1218.6 1414.1L1222.8 1411.0L1227.0 1412.7L1230.1 1409.9L1234.3 1414.8L1237.9 1411.4L1241.7 1417.3L1246.9 1416.2L1250.0 1408.9L1252.5 1414.1L1255.3 1411.0L1258.0 1418.3L1260.5 1412.0L1264.7 1416.2L1269.9 1419.4L1272.0 1414.1L1275.1 1420.4L1279.3 1419.4L1283.5 1414.1L1287.7 1417.3L1294.0 1420.4L1296.1 1415.2L1300.3 1419.4L1300.7 1419.8L1302.1 1418.5L1303.5 1419.0L1304.9 1418.4L1306.2 1417.9L1307.5 1415.6L1308.9 1418.8L1310.2 1421.4L1311.5 1421.7L1312.7 1418.4L1314.0 1417.5L1315.2 1418.5L1316.5 1420.7L1317.7 1419.6L1318.9 1417.8L1320.1 1419.7L1321.3 1418.5L1322.4 1420.0L1323.6 1418.1L1324.7 1415.8L1325.9 1419.1L1327.0 1420.6L1328.1 1416.2L1329.2 1418.5L1330.3 1421.7L1331.3 1417.1L1332.4 1415.9L1333.5 1426.8L1334.5 1421.9L1335.5 1422.7L1336.6 1414.7L1337.6 1425.2L1338.6 1411.7L1339.6 1416.4L1340.6 1421.5L1341.5 1423.3L1342.5 1416.3L1343.5 1417.6L1344.4 1419.8L1345.4 1415.2L1346.3 1420.7L1347.2 1420.6L1348.2 1418.4L1349.1 1420.6L1350.0 1421.1L1350.9 1420.1L1351.8 1420.5L1352.7 1422.7L1353.5 1418.4L1354.4 1419.8L1355.3 1418.3L1356.1 1421.7L1357.0 1418.5L1357.8 1420.5L1358.7 1419.8L1359.5 1419.6L1360.3 1423.3L1361.1 1419.3L1362.0 1422.6L1362.8 1421.3L1363.6 1422.4L1364.4 1419.1L1365.1 1421.6L1365.9 1421.2L1366.7 1418.1L1367.5 1420.1L1368.2 1419.2L1369.0 1419.4L1369.8 1422.5L1370.5 1417.9L1371.3 1415.7L1372.0 1415.6L1372.7 1418.5L1373.5 1418.1L1374.2 1419.6L1374.9 1420.9L1375.6 1423.6L1376.3 1420.3L1377.1 1420.6L1377.8 1417.9L1378.5 1420.9L1379.1 1422.7L1379.8 1422.7L1380.5 1415.0L1381.2 1421.7L1381.9 1423.3L1382.6 1421.5L1383.2 1416.1L1383.9 1418.9L1384.6 1421.0L1385.2 1420.6L1385.9 1417.7L1386.5 1417.5L1387.2 1421.9L1387.8 1416.5L1388.4 1423.0L1389.1 1419.7L1389.7 1420.4L1390.3 1416.5L1391.0 1418.2L1391.6 1421.3L1392.2 1416.1L1392.8 1424.6L1393.4 1416.3L1394.0 1416.7L1394.6 1419.8L1395.2 1420.8L1395.8 1421.5L1396.4 1418.8L1397.0 1419.2L1397.6 1419.1L1398.2 1418.3L1398.7 1413.6L1399.3 1422.0L1399.9 1420.3L1400.5 1420.1L1401.0 1418.2L1401.6 1420.3L1402.2 1419.7L1402.7 1419.5L1403.3 1422.4L1403.8 1415.5L1404.4 1420.4L1404.9 1417.1L1405.5 1419.0L1406.0 1423.4L1406.6 1417.1L1407.1 1419.5L1407.6 1418.3L1408.2 1422.1L1408.7 1417.3L1409.2 1415.6L1409.8 1421.0L1410.3 1418.9L1410.8 1419.0L1411.3 1422.5L1411.8 1417.5L1412.3 1418.8L1412.9 1420.1L1413.4 1420.8L1413.9 1418.4L1414.4 1422.3L1414.9 1425.3L1415.4 1418.7L1415.9 1424.4L1416.4 1414.4L1416.9 1423.2L1417.3 1418.8L1417.8 1420.0L1418.3 1418.8L1418.8 1418.0L1419.3 1416.4L1419.8 1418.6L1420.2 1422.9L1420.7 1422.5L1421.2 1418.7L1421.7 1418.2L1422.1 1417.8L1422.6 1416.5L1423.1 1424.1L1423.5 1421.2L1424.0 1419.8L1424.4 1418.3L1424.9 1416.9L1425.4 1422.9L1425.8 1421.5L1426.3 1417.0L1426.7 1422.0L1427.2 1416.6L1427.6 1421.1L1428.1 1417.0L1428.5 1418.4L1428.9 1420.7L1429.4 1420.5L1429.8 1422.0L1430.2 1417.2L1430.7 1423.5L1431.1 1422.9L1431.5 1419.3L1432.0 1420.6L1432.4 1417.3L1432.8 1419.0L1433.2 1415.9L1433.7 1419.6L1434.1 1419.8L1434.5 1422.8L1434.9 1421.8L1435.3 1421.4L1435.8 1418.3L1436.2 1418.7L1436.6 1418.4L1437.0 1419.8L1437.4 1414.2L1437.8 1421.3L1438.2 1415.1L1438.6 1417.9L1439.0 1419.3L1439.4 1412.7L1439.8 1423.6L1440.2 1418.9L1440.6 1423.3L1441.0 1422.3L1441.4 1417.9L1441.8 1420.2L1442.2 1422.6L1442.6 1418.3L1443.0 1419.4L1443.3 1417.7L1443.7 1419.3L1444.1 1418.2L1444.5 1419.3L1444.9 1421.8L1445.3 1422.8L1445.6 1419.4L1446.0 1419.6L1446.4 1421.4L1446.8 1418.3L1447.1 1416.2L1447.5 1422.0L1447.9 1416.6L1448.2 1421.5L1448.6 1416.5L1449.0 1423.9L1449.3 1416.2L1449.7 1421.3L1450.1 1423.0L1450.4 1416.4L1450.8 1423.0L1451.2 1416.8L1451.5 1414.2L1451.9 1420.9L1452.2 1420.8L1452.6 1418.4L1452.9 1412.2L1453.3 1418.8L1453.6 1418.1L1454.0 1417.9L1454.3 1418.1L1454.7 1414.0L1455.0 1417.3L1455.4 1423.6L1455.7 1422.9L1456.1 1417.8L1456.4 1416.8L1456.8 1419.8L1457.1 1421.6L1457.4 1420.6L1457.8 1415.5L1458.1 1419.1L1458.5 1419.0L1458.8 1422.5L1459.1 1421.8L1459.5 1420.0L1459.8 1421.8L1460.1 1417.5L1460.5 1422.6L1460.8 1417.3L1461.1 1419.5L1461.4 1420.9L1461.8 1416.0L1462.1 1416.5L1462.4 1413.7L1462.7 1418.8L1463.1 1418.2L1463.4 1417.5L1463.7 1419.7L1464.0 1412.6L1464.3 1418.2L1464.7 1418.5L1465.0 1417.5L1465.3 1420.4L1465.6 1422.9L1465.9 1417.0L1466.2 1415.6L1466.6 1416.5L1466.9 1418.4L1467.2 1419.7L1467.5 1415.8L1467.8 1420.8L1468.1 1415.3L1468.4 1420.3L1468.7 1419.2L1469.0 1419.2L1469.3 1423.8L1469.6 1417.3L1469.9 1411.0L1470.2 1419.2L1470.5 1420.2L1470.8 1414.3L1471.1 1418.6L1471.4 1415.9L1471.7 1419.5L1472.0 1421.5L1472.3 1417.9L1472.6 1417.5L1472.9 1418.3L1473.2 1411.0L1473.5 1419.8L1473.8 1419.2L1474.1 1418.1L1474.4 1416.6L1474.7 1415.7L1475.0 1417.2L1475.3 1420.9L1475.5 1417.3L1475.8 1421.2L1476.1 1410.9L1476.4 1416.3L1476.7 1418.3L1477.0 1417.5L1477.3 1413.0L1477.5 1415.7L1477.8 1420.8L1478.1 1414.0L1478.4 1414.8L1478.7 1414.5L1478.9 1415.9L1479.2 1419.1L1479.5 1419.0L1479.8 1411.9L1480.1 1421.3L1480.3 1415.7L1480.6 1415.7L1480.9 1421.8L1481.2 1417.1"/>
<path class="ax" d="M898.9 1224.6V1495.5M894.4 1491.0H1480.7M894.4 1466.8h9M894.4 1442.6h9M894.4 1418.3h9M894.4 1394.1h9M894.4 1369.9h9M894.4 1345.7h9M894.4 1321.5h9M894.4 1297.3h9M894.4 1273.0h9M894.4 1248.8h9M894.4 1224.6h9M975.0 1486.5v9M1019.5 1486.5v9M1051.1 1486.5v9M1075.6 1486.5v9M1095.7 1486.5v9M1112.6 1486.5v9M1127.2 1486.5v9M1151.7 1486.5v9M1227.9 1486.5v9M1272.4 1486.5v9M1304.0 1486.5v9M1328.5 1486.5v9M1348.5 1486.5v9M1365.4 1486.5v9M1380.1 1486.5v9M1404.6 1486.5v9M1480.7 1486.5v9"/>
<text class="tk" text-anchor="end" transform="translate(892.9 1496.2) scale(1.12 1)">0</text>
<text class="tk" text-anchor="end" transform="translate(892.9 1447.8) scale(1.12 1)">20</text>
<text class="tk" text-anchor="end" transform="translate(892.9 1399.3) scale(1.12 1)">40</text>
<text class="tk" text-anchor="end" transform="translate(892.9 1350.9) scale(1.12 1)">60</text>
<text class="tk" text-anchor="end" transform="translate(892.9 1302.5) scale(1.12 1)">80</text>
<text class="tk" text-anchor="end" transform="translate(892.9 1254.0) scale(1.12 1)">100</text>
<text class="tk" text-anchor="end" transform="translate(892.9 1229.8) scale(1.12 1)">110</text>
<text class="tk" text-anchor="middle" transform="translate(900.3 1514.8) scale(1.12 1)">10k</text>
<text class="tk" text-anchor="middle" transform="translate(976.1 1514.8) scale(1.12 1)">20k</text>
<text class="tk" text-anchor="middle" transform="translate(1020.0 1514.8) scale(1.12 1)">30k</text>
<text class="tk" text-anchor="middle" transform="translate(1050.7 1514.8) scale(1.12 1)">40</text>
<text class="tk" text-anchor="middle" transform="translate(1075.2 1514.8) scale(1.12 1)">50</text>
<text class="tk" text-anchor="middle" transform="translate(1095.3 1514.8) scale(1.12 1)">60</text>
<text class="tk" text-anchor="middle" transform="translate(1126.8 1514.8) scale(1.12 1)">80</text>
<text class="tk" text-anchor="middle" transform="translate(1153.4 1514.8) scale(1.12 1)">100k</text>
<text class="tk" text-anchor="middle" transform="translate(1226.9 1514.8) scale(1.12 1)">200</text>
<text class="tk" text-anchor="middle" transform="translate(1272.0 1514.8) scale(1.12 1)">300</text>
<text class="tk" text-anchor="middle" transform="translate(1303.6 1514.8) scale(1.12 1)">400</text>
<text class="tk" text-anchor="middle" transform="translate(1329.2 1514.8) scale(1.12 1)">500</text>
<text class="tk" text-anchor="middle" transform="translate(1379.7 1514.8) scale(1.12 1)">800</text>
<text class="tk" text-anchor="middle" transform="translate(1404.2 1514.8) scale(1.12 1)">1M</text>
<text class="tk" text-anchor="middle" transform="translate(1480.3 1514.8) scale(1.12 1)">2M</text>
</g>
<text class="s" x="1055.0" y="1551.0"><tspan>Frequency</tspan><tspan dy="2.3">（</tspan><tspan dy="-2.3">Hz</tspan><tspan dy="2.3">）</tspan></text>
<text class="s b" x="1031.5" y="1588.7"><tspan>L2 </tspan><tspan dy="2.3">线</tspan><tspan dy="-2.3"> CE102 </tspan><tspan dy="2.3">频谱图</tspan></text>
<text class="s" x="575.3" y="1661.4">Level dB(μV)</text>
<g class="chart" id="c6">
<path class="grid" d="M589.0 1923.4H1164.4M589.0 1899.3H1164.4M589.0 1875.1H1164.4M589.0 1850.9H1164.4M589.0 1826.7H1164.4M589.0 1802.6H1164.4M589.0 1778.4H1164.4M589.0 1754.2H1164.4M589.0 1730.0H1164.4M589.0 1705.9H1164.4M589.0 1681.7H1164.4M659.9 1681.7V1942.6M704.3 1681.7V1942.6M735.9 1681.7V1942.6M760.3 1681.7V1942.6M780.3 1681.7V1942.6M797.2 1681.7V1942.6M811.8 1681.7V1942.6M836.2 1681.7V1942.6M912.2 1681.7V1942.6M956.6 1681.7V1942.6M988.1 1681.7V1942.6M1012.5 1681.7V1942.6M1032.5 1681.7V1942.6M1049.4 1681.7V1942.6M1064.0 1681.7V1942.6M1088.5 1681.7V1942.6M1164.4 1681.7V1942.6"/>
<path class="lim" d="M584.0 1694.5L1012.5 1775.7L1164.4 1775.7"/>
<path class="tr" d="M584.3 1746.9L587.0 1754.2L590.1 1764.7L593.9 1778.3L596.8 1787.3L599.5 1788.8L602.7 1795.0L605.8 1798.6L609.0 1798.2L612.1 1796.5L614.2 1797.1L616.3 1787.7L618.0 1784.2L620.5 1788.8L623.6 1792.9L626.1 1804.5L628.9 1806.6L630.9 1805.5L632.6 1802.4L635.1 1809.7L637.2 1805.5L640.0 1803.4L642.9 1807.6L645.6 1809.1L648.7 1804.5L652.9 1798.2L656.1 1798.2L658.6 1794.0L660.7 1785.2L661.7 1798.2L663.8 1814.9L666.1 1816.0L667.6 1829.6L669.7 1833.8L672.2 1831.7L673.9 1835.9L677.0 1835.9L680.1 1844.2L682.2 1842.1L685.4 1847.4L688.5 1851.6L690.6 1855.1L692.7 1850.5L694.8 1852.6L696.5 1850.9L699.0 1857.8L702.1 1856.8L703.6 1859.9L704.9 1852.6L707.4 1850.5L709.9 1848.4L712.6 1852.6L714.7 1853.7L716.8 1861.0L718.9 1868.3L720.3 1855.8L722.4 1857.8L724.5 1852.6L727.3 1853.7L729.3 1850.5L731.4 1849.5L733.1 1844.2L735.6 1849.5L737.7 1847.4L739.8 1845.3L741.9 1850.5L743.4 1839.0L744.6 1848.4L746.3 1843.8L747.8 1858.9L749.7 1853.7L751.3 1857.8L753.0 1851.6L754.5 1858.9L756.6 1846.3L758.0 1849.5L759.7 1861.0L761.2 1869.4L762.4 1862.0L763.9 1852.6L764.9 1875.6L766.4 1863.1L768.1 1861.0L769.8 1871.5L771.2 1866.2L772.7 1877.7L775.4 1876.7L777.5 1871.5L779.0 1881.9L780.6 1869.4L782.7 1880.9L784.4 1866.2L785.9 1878.8L787.3 1850.5L788.6 1873.5L790.1 1849.5L791.5 1874.6L793.2 1851.6L794.5 1873.5L795.7 1878.8L797.0 1850.5L798.0 1881.9L799.1 1892.4L800.5 1884.0L802.6 1877.7L803.0 1877.5L803.7 1879.6L804.3 1879.5L804.9 1878.7L805.5 1881.1L806.1 1885.2L806.7 1883.6L807.3 1878.1L807.9 1891.0L808.5 1879.7L809.1 1883.5L809.7 1883.4L810.3 1885.9L810.9 1882.5L811.4 1885.3L812.0 1890.8L812.6 1884.4L813.2 1880.7L813.7 1885.5L814.3 1881.9L814.8 1883.5L815.4 1885.5L816.0 1886.1L816.5 1884.2L817.1 1888.0L817.6 1884.8L818.1 1881.3L818.7 1888.5L819.2 1884.6L819.8 1889.9L820.3 1883.9L820.8 1888.1L821.4 1887.4L821.9 1878.3L822.4 1881.7L822.9 1883.1L823.4 1891.5L824.0 1880.8L824.5 1890.1L825.0 1890.8L825.5 1889.0L826.0 1889.7L826.5 1886.0L827.0 1887.7L827.5 1888.6L828.0 1889.4L828.5 1890.4L829.0 1887.6L829.5 1886.1L830.0 1886.7L830.5 1890.0L830.9 1883.3L831.4 1884.8L831.9 1887.6L832.4 1887.3L832.9 1888.3L833.3 1881.2L833.8 1888.3L834.3 1888.8L834.7 1892.2L835.2 1883.3L835.7 1888.9L836.1 1891.6L836.6 1891.7L837.0 1894.2L837.5 1893.8L838.0 1886.9L838.4 1892.5L838.9 1889.4L839.3 1887.9L839.7 1895.6L840.2 1888.5L840.6 1887.9L841.1 1889.4L841.5 1887.9L842.0 1894.1L842.4 1892.1L842.8 1895.4L843.3 1892.2L843.7 1888.9L844.1 1894.4L844.5 1888.9L845.0 1889.6L845.4 1890.6L845.8 1891.3L846.2 1895.1L846.7 1889.3L847.1 1892.4L847.5 1891.2L847.9 1887.3L848.3 1887.8L848.7 1890.7L849.1 1892.8L849.5 1892.6L850.0 1893.1L850.4 1891.8L850.8 1890.2L851.2 1893.1L851.6 1888.5L852.0 1887.4L852.4 1890.7L852.8 1887.2L853.2 1890.2L853.5 1889.5L853.9 1890.2L854.3 1891.9L854.7 1889.4L855.1 1890.7L855.5 1886.5L855.9 1892.6L856.3 1889.3L856.6 1893.6L857.0 1884.1L857.4 1889.7L857.8 1893.2L858.2 1884.4L858.5 1891.2L858.9 1892.8L859.3 1892.8L859.7 1887.6L860.0 1893.3L860.4 1893.1L860.8 1889.4L861.1 1895.1L861.5 1892.5L861.9 1892.7L862.2 1891.2L862.6 1894.5L863.0 1893.1L863.3 1896.5L863.7 1894.3L864.0 1890.8L864.4 1892.1L864.7 1895.9L865.1 1891.7L865.4 1894.2L865.8 1894.7L866.1 1892.4L866.5 1885.4L866.8 1893.5L867.2 1893.8L867.5 1893.6L867.9 1890.6L868.2 1897.1L868.6 1892.7L868.9 1891.2L869.3 1890.9L869.6 1894.4L869.9 1889.7L870.3 1890.0L870.6 1899.9L870.9 1897.7L871.3 1896.9L871.6 1897.9L871.9 1895.4L872.3 1887.9L872.6 1897.4L872.9 1897.6L873.3 1895.2L873.6 1887.1L873.9 1897.7L874.2 1898.1L874.6 1892.0L874.9 1894.1L875.2 1896.2L875.5 1893.4L875.9 1897.4L876.2 1894.0L876.5 1896.1L876.8 1894.1L877.1 1889.0L877.4 1890.6L877.8 1902.0L878.1 1894.8L878.4 1898.3L878.7 1897.7L879.0 1899.6L879.3 1895.8L879.6 1892.1L879.9 1894.1L880.7 1894.1L880.7 1863.5L883.7 1866.2L889.0 1866.8L894.2 1866.2L897.3 1869.4L900.5 1866.8L904.7 1873.5L909.9 1870.4L913.0 1871.5L917.2 1868.3L920.8 1871.5L923.1 1864.8L925.6 1871.5L930.8 1871.9L937.1 1873.1L943.4 1874.6L946.5 1875.2L949.7 1868.3L952.2 1873.5L956.0 1874.6L960.1 1872.5L964.3 1874.0L970.6 1872.5L974.8 1875.6L979.0 1876.7L979.4 1872.7L980.9 1875.3L982.3 1877.1L983.8 1872.2L985.2 1876.0L986.6 1877.0L988.0 1877.8L989.3 1874.1L990.7 1874.5L992.0 1872.5L993.3 1873.9L994.6 1876.6L995.9 1879.3L997.2 1873.6L998.4 1878.1L999.7 1876.4L1000.9 1874.7L1002.1 1879.6L1003.3 1871.1L1004.5 1875.5L1005.6 1876.0L1006.8 1879.6L1008.0 1879.0L1009.1 1879.9L1010.2 1875.9L1011.3 1877.5L1012.4 1878.3L1013.5 1876.6L1014.6 1876.3L1015.7 1875.3L1016.7 1874.8L1017.8 1868.9L1018.8 1879.5L1019.8 1874.7L1020.9 1871.4L1021.9 1876.2L1022.9 1875.6L1023.9 1876.0L1024.9 1879.4L1025.8 1875.4L1026.8 1875.1L1027.8 1874.1L1028.7 1875.6L1029.6 1869.8L1030.6 1876.1L1031.5 1870.4L1032.4 1876.5L1033.3 1873.8L1034.2 1879.8L1035.1 1877.6L1036.0 1877.5L1036.9 1877.4L1037.8 1877.6L1038.6 1877.4L1039.5 1879.0L1040.4 1878.2L1041.2 1879.0L1042.0 1875.0L1042.9 1876.1L1043.7 1874.5L1044.5 1878.3L1045.3 1878.1L1046.1 1875.2L1046.9 1877.6L1047.7 1882.0L1048.5 1879.2L1049.3 1873.9L1050.1 1876.3L1050.9 1878.0L1051.6 1876.5L1052.4 1877.5L1053.2 1879.4L1053.9 1877.4L1054.7 1874.1L1055.4 1878.4L1056.2 1876.5L1056.9 1877.0L1057.6 1875.4L1058.3 1873.4L1059.1 1873.7L1059.8 1875.8L1060.5 1874.1L1061.2 1870.8L1061.9 1879.4L1062.6 1873.9L1063.3 1875.0L1064.0 1878.0L1064.6 1870.9L1065.3 1879.9L1066.0 1874.8L1066.7 1878.3L1067.3 1875.5L1068.0 1877.4L1068.7 1876.9L1069.3 1876.7L1070.0 1872.2L1070.6 1873.1L1071.2 1876.6L1071.9 1880.1L1072.5 1875.4L1073.2 1878.0L1073.8 1877.1L1074.4 1877.9L1075.0 1879.1L1075.6 1873.0L1076.3 1877.4L1076.9 1876.2L1077.5 1875.9L1078.1 1874.6L1078.7 1874.7L1079.3 1874.1L1079.9 1873.9L1080.5 1882.8L1081.0 1880.9L1081.6 1876.7L1082.2 1878.6L1082.8 1874.2L1083.4 1870.5L1083.9 1872.1L1084.5 1877.0L1085.1 1880.3L1085.6 1876.6L1086.2 1874.1L1086.8 1876.1L1087.3 1874.2L1087.9 1873.1L1088.4 1876.1L1089.0 1875.7L1089.5 1874.6L1090.0 1874.4L1090.6 1874.3L1091.1 1877.3L1091.7 1880.3L1092.2 1876.1L1092.7 1882.4L1093.2 1872.5L1093.8 1877.4L1094.3 1873.7L1094.8 1876.3L1095.3 1877.0L1095.8 1878.1L1096.3 1879.6L1096.9 1875.2L1097.4 1873.5L1097.9 1876.2L1098.4 1877.5L1098.9 1874.9L1099.4 1879.0L1099.9 1881.1L1100.3 1873.0L1100.8 1877.6L1101.3 1879.4L1101.8 1871.6L1102.3 1877.2L1102.8 1876.1L1103.3 1872.9L1103.7 1880.2L1104.2 1877.3L1104.7 1875.4L1105.2 1877.9L1105.6 1878.4L1106.1 1878.7L1106.6 1878.2L1107.0 1877.8L1107.5 1873.5L1107.9 1875.6L1108.4 1877.0L1108.9 1870.1L1109.3 1882.4L1109.8 1875.7L1110.2 1873.9L1110.7 1871.8L1111.1 1877.4L1111.5 1876.8L1112.0 1875.1L1112.4 1875.6L1112.9 1874.3L1113.3 1874.7L1113.7 1876.4L1114.2 1874.9L1114.6 1878.5L1115.0 1876.3L1115.5 1877.0L1115.9 1877.8L1116.3 1880.1L1116.7 1878.3L1117.2 1877.3L1117.6 1876.2L1118.0 1874.5L1118.4 1875.7L1118.8 1878.5L1119.3 1877.3L1119.7 1875.6L1120.1 1873.0L1120.5 1872.4L1120.9 1877.5L1121.3 1879.4L1121.7 1877.6L1122.1 1872.8L1122.5 1876.0L1122.9 1877.2L1123.3 1874.0L1123.7 1877.5L1124.1 1876.0L1124.5 1874.2L1124.9 1873.1L1125.3 1878.7L1125.7 1877.5L1126.1 1874.1L1126.5 1873.7L1126.8 1878.9L1127.2 1878.1L1127.6 1875.6L1128.0 1880.8L1128.4 1875.6L1128.8 1873.5L1129.1 1879.4L1129.5 1875.9L1129.9 1877.3L1130.3 1876.5L1130.6 1873.7L1131.0 1873.1L1131.4 1875.8L1131.7 1880.2L1132.1 1873.6L1132.5 1880.1L1132.9 1876.9L1133.2 1873.3L1133.6 1877.0L1133.9 1877.9L1134.3 1873.9L1134.7 1870.5L1135.0 1877.3L1135.4 1873.3L1135.7 1877.5L1136.1 1871.1L1136.4 1875.9L1136.8 1874.0L1137.1 1872.2L1137.5 1875.6L1137.8 1876.7L1138.2 1874.7L1138.5 1873.0L1138.9 1876.8L1139.2 1871.4L1139.6 1877.6L1139.9 1877.5L1140.3 1880.7L1140.6 1878.6L1140.9 1877.1L1141.3 1876.9L1141.6 1876.2L1142.0 1872.5L1142.3 1880.1L1142.6 1877.6L1143.0 1875.3L1143.3 1873.0L1143.6 1880.1L1144.0 1877.5L1144.3 1872.9L1144.6 1877.9L1144.9 1881.2L1145.3 1876.0L1145.6 1877.1L1145.9 1874.9L1146.2 1874.3L1146.6 1879.0L1146.9 1882.7L1147.2 1876.3L1147.5 1875.7L1147.8 1878.2L1148.2 1875.2L1148.5 1878.0L1148.8 1878.2L1149.1 1873.2L1149.4 1873.1L1149.7 1875.8L1150.1 1878.2L1150.4 1876.7L1150.7 1879.3L1151.0 1872.2L1151.3 1877.3L1151.6 1874.2L1151.9 1876.2L1152.2 1876.8L1152.5 1873.3L1152.8 1875.3L1153.1 1872.7L1153.4 1876.6L1153.7 1873.6L1154.0 1874.5L1154.3 1876.5L1154.6 1874.1L1154.9 1879.0L1155.2 1874.1L1155.5 1878.1L1155.8 1876.6L1156.1 1873.0L1156.4 1875.2L1156.7 1873.5L1157.0 1874.8L1157.3 1875.1L1157.6 1880.7L1157.9 1874.6L1158.2 1880.0L1158.5 1877.0L1158.8 1872.2L1159.0 1869.5L1159.3 1877.6L1159.6 1870.3L1159.9 1877.7L1160.2 1878.5L1160.5 1876.8L1160.8 1875.1L1161.0 1875.0L1161.3 1876.4L1161.6 1874.9L1161.9 1874.2L1162.2 1874.7L1162.4 1878.9L1162.7 1874.0L1163.0 1876.7L1163.3 1872.5L1163.5 1873.7L1163.8 1871.9L1164.1 1875.1"/>
<path class="ax" d="M584.0 1681.7V1952.1M579.5 1947.6H1164.4M579.5 1923.4h9M579.5 1899.3h9M579.5 1875.1h9M579.5 1850.9h9M579.5 1826.7h9M579.5 1802.6h9M579.5 1778.4h9M579.5 1754.2h9M579.5 1730.0h9M579.5 1705.9h9M579.5 1681.7h9M659.9 1943.1v9M704.3 1943.1v9M735.9 1943.1v9M760.3 1943.1v9M780.3 1943.1v9M797.2 1943.1v9M811.8 1943.1v9M836.2 1943.1v9M912.2 1943.1v9M956.6 1943.1v9M988.1 1943.1v9M1012.5 1943.1v9M1032.5 1943.1v9M1049.4 1943.1v9M1064.0 1943.1v9M1088.5 1943.1v9M1164.4 1943.1v9"/>
<text class="tk" text-anchor="end" transform="translate(578.0 1952.8) scale(1.12 1)">0</text>
<text class="tk" text-anchor="end" transform="translate(578.0 1904.5) scale(1.12 1)">20</text>
<text class="tk" text-anchor="end" transform="translate(578.0 1856.1) scale(1.12 1)">40</text>
<text class="tk" text-anchor="end" transform="translate(578.0 1807.8) scale(1.12 1)">60</text>
<text class="tk" text-anchor="end" transform="translate(578.0 1759.4) scale(1.12 1)">80</text>
<text class="tk" text-anchor="end" transform="translate(578.0 1711.1) scale(1.12 1)">100</text>
<text class="tk" text-anchor="end" transform="translate(578.0 1686.9) scale(1.12 1)">110</text>
<text class="tk" text-anchor="middle" transform="translate(585.4 1971.4) scale(1.12 1)">10k</text>
<text class="tk" text-anchor="middle" transform="translate(661.0 1971.4) scale(1.12 1)">20k</text>
<text class="tk" text-anchor="middle" transform="translate(704.8 1971.4) scale(1.12 1)">30k</text>
<text class="tk" text-anchor="middle" transform="translate(735.5 1971.4) scale(1.12 1)">40</text>
<text class="tk" text-anchor="middle" transform="translate(759.9 1971.4) scale(1.12 1)">50</text>
<text class="tk" text-anchor="middle" transform="translate(779.9 1971.4) scale(1.12 1)">60</text>
<text class="tk" text-anchor="middle" transform="translate(811.4 1971.4) scale(1.12 1)">80</text>
<text class="tk" text-anchor="middle" transform="translate(837.9 1971.4) scale(1.12 1)">100k</text>
<text class="tk" text-anchor="middle" transform="translate(911.2 1971.4) scale(1.12 1)">200</text>
<text class="tk" text-anchor="middle" transform="translate(956.2 1971.4) scale(1.12 1)">300</text>
<text class="tk" text-anchor="middle" transform="translate(987.7 1971.4) scale(1.12 1)">400</text>
<text class="tk" text-anchor="middle" transform="translate(1013.2 1971.4) scale(1.12 1)">500</text>
<text class="tk" text-anchor="middle" transform="translate(1063.6 1971.4) scale(1.12 1)">800</text>
<text class="tk" text-anchor="middle" transform="translate(1088.1 1971.4) scale(1.12 1)">1M</text>
<text class="tk" text-anchor="middle" transform="translate(1164.0 1971.4) scale(1.12 1)">2M</text>
</g>
<text class="s" x="755.7" y="2007.3"><tspan>Frequency</tspan><tspan dy="2.3">（</tspan><tspan dy="-2.3">Hz</tspan><tspan dy="2.3">）</tspan></text>
<text class="s b" x="736.7" y="2045.4"><tspan>L3 </tspan><tspan dy="2.3">线</tspan><tspan dy="-2.3"> CE102 </tspan><tspan dy="2.3">频谱图</tspan></text>
<text class="s b" x="730.5" y="2243.5" xml:space="preserve"><tspan dy="2.3">第</tspan><tspan dy="-2.3"> 16 </tspan><tspan dy="2.3">页</tspan><tspan dy="-2.3">  </tspan><tspan dy="2.3">共</tspan><tspan dy="-2.3"> 132 </tspan><tspan dy="2.3">页</tspan></text>
<g transform="translate(363.3,523.2) rotate(57.5)">
<text class="wmh" aria-hidden="true" x="0" y="0">扬州恒春电子有限公司</text>
<text class="wm" x="0" y="0">扬州恒春电子有限公司</text>
</g>
</svg>
<div class="logo"><span class="lg" style="margin-left:1257.67px;transform:scaleX(1.058)">S</span><span class="lg" style="margin-left:1.24px;transform:scaleX(1.716)">i</span><span class="lg" style="margin-left:9.50px;transform:scaleX(1.143)">T</span><span class="lg" style="margin-left:4.40px;transform:scaleX(1.510)">i</span><span class="lg" style="margin-left:3.84px;transform:scaleX(1.613)">i</span><span class="la" style="margin-left:10.59px;transform:scaleX(1.102)">A</span><span class="lg" style="margin-left:7.59px;transform:scaleX(1.058)">S</span></div>
</body>
</html>
